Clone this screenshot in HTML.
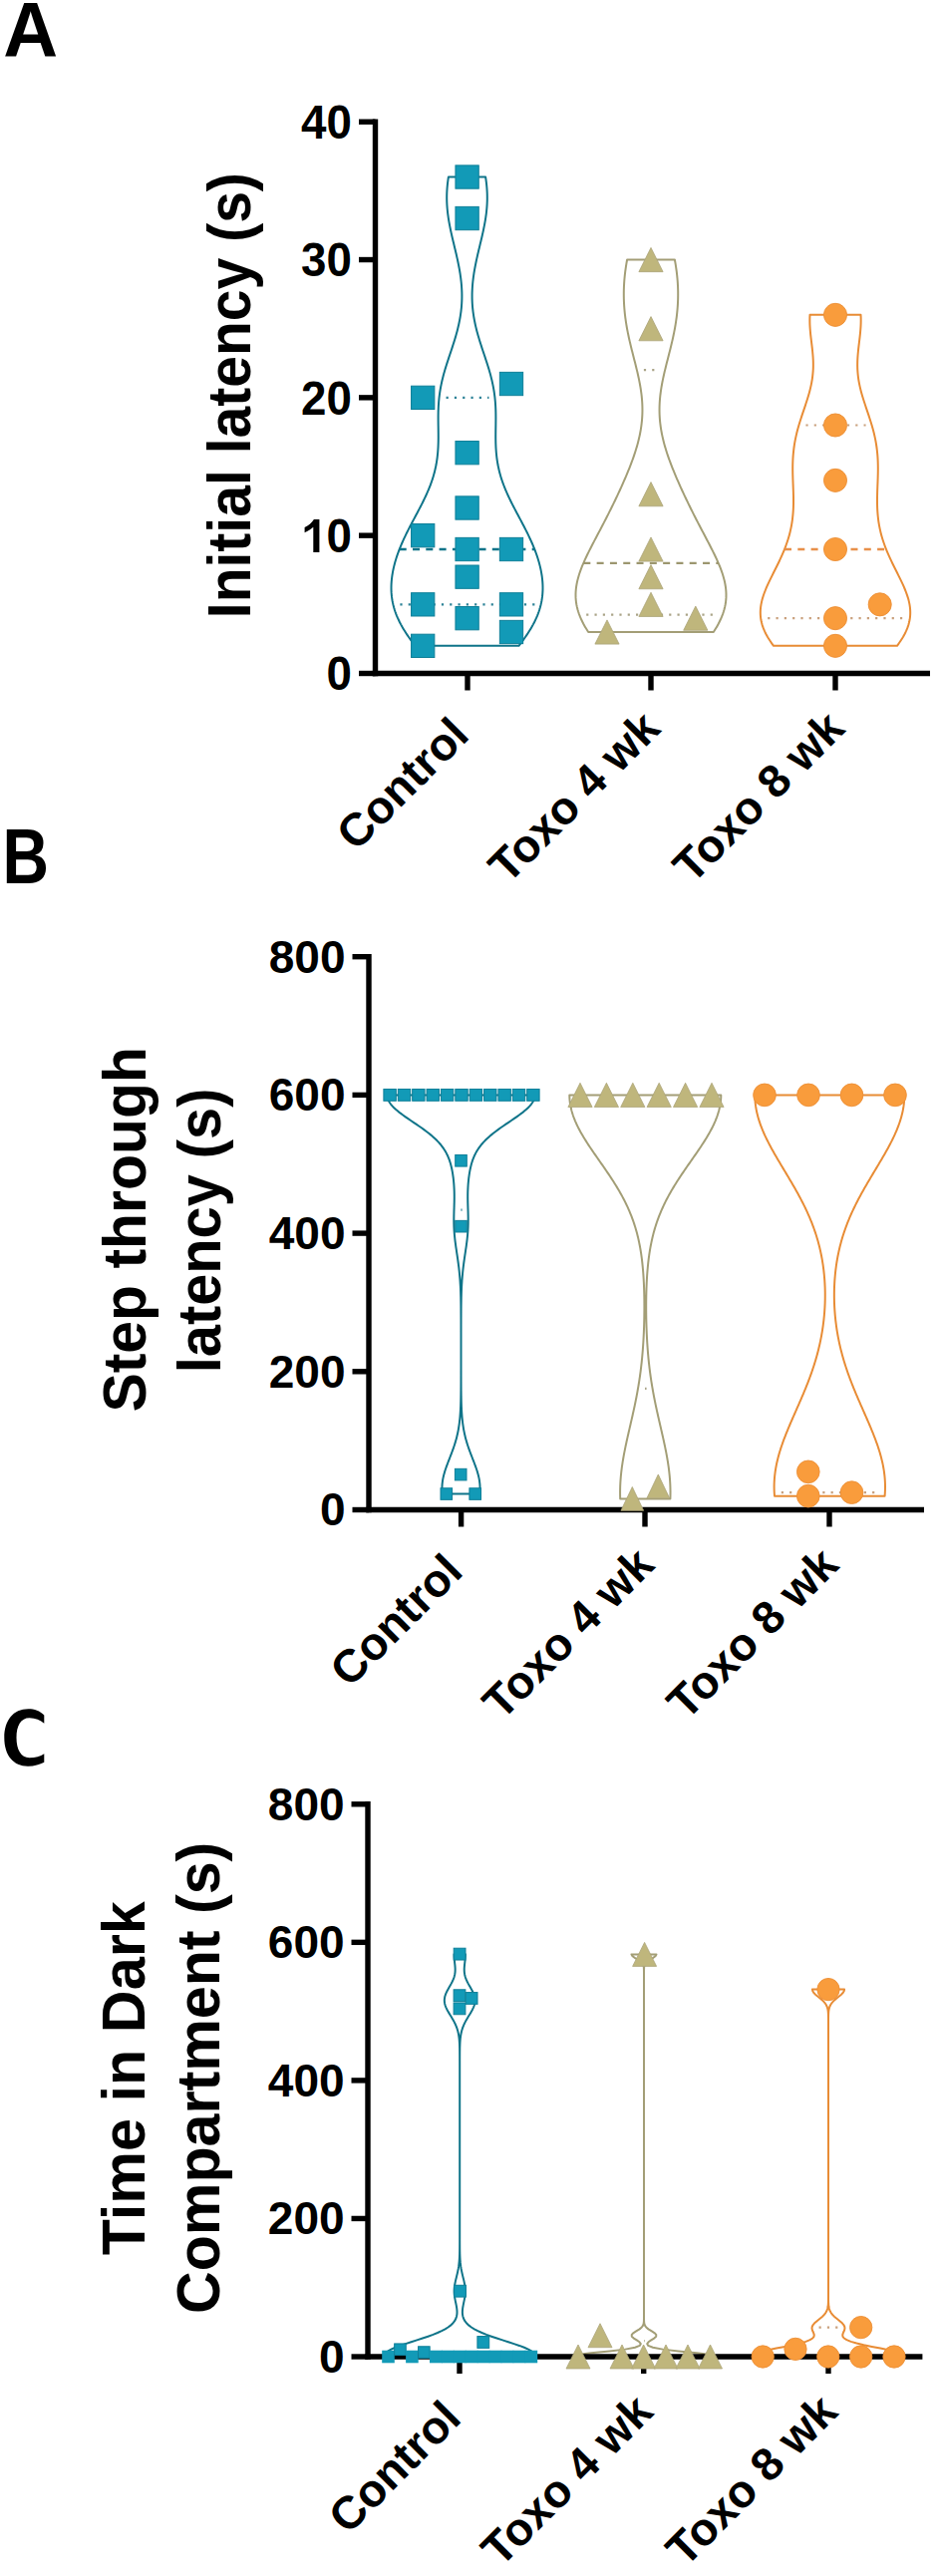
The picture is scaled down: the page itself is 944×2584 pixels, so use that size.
<!DOCTYPE html>
<html><head><meta charset="utf-8"><title>Violin plots</title>
<style>html,body{margin:0;padding:0;background:#fff;overflow:hidden}svg{display:block}</style>
</head><body>
<svg width="944" height="2584" viewBox="0 0 944 2584"><rect width="944" height="2584" fill="#fff"/>
<text font-family="Liberation Sans, sans-serif" font-weight="bold" font-size="78.4" transform="translate(3.2,56.5) scale(0.97,1)">A</text>
<text font-family="Liberation Sans, sans-serif" font-weight="bold" font-size="77" transform="translate(2.4,885.8) scale(0.836,1)">B</text>
<path d="M44.3,1720.5 C40,1716.2 34.5,1714.3 28.5,1714.3 C13,1714.3 4.3,1726 4.3,1743 C4.3,1761 13.5,1771.7 28,1771.7 C34.5,1771.7 40,1770.2 44.3,1767.8 L44.3,1759.3 C40.5,1761.8 35.5,1763.2 29.5,1763.2 C21,1763.2 16.5,1755 16.5,1743 C16.5,1731 21,1723.3 29.5,1723.3 C35.5,1723.3 40.5,1725.5 44.3,1728.8 Z" fill="#000"/>
<text font-family="Liberation Sans, sans-serif" font-weight="bold" font-size="46" text-anchor="end" transform="translate(472.60,739.50) rotate(-45)">Control</text>
<text font-family="Liberation Sans, sans-serif" font-weight="bold" font-size="46" text-anchor="end" transform="translate(664.40,733.00) rotate(-45)">Toxo 4 wk</text>
<text font-family="Liberation Sans, sans-serif" font-weight="bold" font-size="46" text-anchor="end" transform="translate(849.40,733.00) rotate(-45)">Toxo 8 wk</text>
<text font-family="Liberation Sans, sans-serif" font-weight="bold" font-size="61.50" transform="translate(250.50,620.20) rotate(-90) scale(0.928,1)">Initial latency (s)</text>
<text font-family="Liberation Sans, sans-serif" font-weight="bold" font-size="46" text-anchor="end" transform="translate(466.20,1578.50) rotate(-45)">Control</text>
<text font-family="Liberation Sans, sans-serif" font-weight="bold" font-size="46" text-anchor="end" transform="translate(658.40,1572.00) rotate(-45)">Toxo 4 wk</text>
<text font-family="Liberation Sans, sans-serif" font-weight="bold" font-size="46" text-anchor="end" transform="translate(843.40,1572.00) rotate(-45)">Toxo 8 wk</text>
<text font-family="Liberation Sans, sans-serif" font-weight="bold" font-size="61.50" transform="translate(146.00,1416.60) rotate(-90) scale(0.958,1)">Step through</text>
<text font-family="Liberation Sans, sans-serif" font-weight="bold" font-size="61.50" transform="translate(220.50,1377.20) rotate(-90) scale(0.939,1)">latency (s)</text>
<text font-family="Liberation Sans, sans-serif" font-weight="bold" font-size="46" text-anchor="end" transform="translate(464.60,2428.00) rotate(-45)">Control</text>
<text font-family="Liberation Sans, sans-serif" font-weight="bold" font-size="46" text-anchor="end" transform="translate(657.10,2421.50) rotate(-45)">Toxo 4 wk</text>
<text font-family="Liberation Sans, sans-serif" font-weight="bold" font-size="46" text-anchor="end" transform="translate(842.40,2421.50) rotate(-45)">Toxo 8 wk</text>
<text font-family="Liberation Sans, sans-serif" font-weight="bold" font-size="61.50" transform="translate(145.00,2262.30) rotate(-90) scale(0.965,1)">Time in Dark</text>
<text font-family="Liberation Sans, sans-serif" font-weight="bold" font-size="61.50" transform="translate(220.30,2321.00) rotate(-90) scale(0.962,1)">Compartment (s)</text>
<path d="M487.12,177.53 L487.43,179.68 L487.72,181.83 L487.98,183.97 L488.20,186.12 L488.39,188.27 L488.54,190.42 L488.66,192.56 L488.74,194.71 L488.78,196.86 L488.79,199.01 L488.76,201.15 L488.69,203.30 L488.58,205.45 L488.44,207.60 L488.27,209.74 L488.06,211.89 L487.82,214.04 L487.54,216.19 L487.24,218.33 L486.90,220.48 L486.54,222.63 L486.15,224.78 L485.74,226.92 L485.31,229.07 L484.86,231.22 L484.40,233.37 L483.91,235.51 L483.42,237.66 L482.92,239.81 L482.41,241.96 L481.89,244.10 L481.38,246.25 L480.86,248.40 L480.34,250.55 L479.83,252.69 L479.33,254.84 L478.84,256.99 L478.36,259.14 L477.89,261.28 L477.43,263.43 L477.00,265.58 L476.58,267.73 L476.19,269.87 L475.81,272.02 L475.46,274.17 L475.14,276.32 L474.85,278.46 L474.58,280.61 L474.34,282.76 L474.13,284.91 L473.96,287.05 L473.82,289.20 L473.71,291.35 L473.63,293.50 L473.59,295.64 L473.59,297.79 L473.62,299.94 L473.69,302.09 L473.79,304.23 L473.94,306.38 L474.11,308.53 L474.33,310.68 L474.58,312.82 L474.87,314.97 L475.19,317.12 L475.55,319.27 L475.95,321.41 L476.38,323.56 L476.84,325.71 L477.33,327.86 L477.85,330.00 L478.40,332.15 L478.98,334.30 L479.58,336.45 L480.21,338.59 L480.85,340.74 L481.52,342.89 L482.20,345.04 L482.89,347.18 L483.59,349.33 L484.30,351.48 L485.02,353.63 L485.74,355.77 L486.46,357.92 L487.17,360.07 L487.88,362.22 L488.57,364.36 L489.25,366.51 L489.92,368.66 L490.57,370.81 L491.20,372.95 L491.80,375.10 L492.38,377.25 L492.93,379.40 L493.45,381.54 L493.94,383.69 L494.39,385.84 L494.82,387.99 L495.21,390.13 L495.56,392.28 L495.88,394.43 L496.17,396.58 L496.42,398.72 L496.64,400.87 L496.83,403.02 L496.99,405.17 L497.12,407.31 L497.22,409.46 L497.30,411.61 L497.35,413.76 L497.38,415.90 L497.40,418.05 L497.40,420.20 L497.39,422.35 L497.37,424.49 L497.34,426.64 L497.31,428.79 L497.28,430.94 L497.26,433.08 L497.24,435.23 L497.23,437.38 L497.23,439.53 L497.26,441.67 L497.29,443.82 L497.36,445.97 L497.44,448.12 L497.56,450.26 L497.70,452.41 L497.88,454.56 L498.09,456.71 L498.33,458.85 L498.62,461.00 L498.94,463.15 L499.30,465.30 L499.71,467.44 L500.16,469.59 L500.66,471.74 L501.19,473.89 L501.78,476.03 L502.40,478.18 L503.07,480.33 L503.79,482.48 L504.54,484.62 L505.34,486.77 L506.18,488.92 L507.05,491.07 L507.96,493.21 L508.91,495.36 L509.89,497.51 L510.90,499.66 L511.93,501.80 L513.00,503.95 L514.08,506.10 L515.18,508.25 L516.29,510.39 L517.42,512.54 L518.56,514.69 L519.70,516.84 L520.85,518.98 L521.99,521.13 L523.14,523.28 L524.27,525.43 L525.39,527.57 L526.51,529.72 L527.60,531.87 L528.68,534.02 L529.74,536.16 L530.77,538.31 L531.78,540.46 L532.76,542.61 L533.71,544.75 L534.63,546.90 L535.52,549.05 L536.38,551.20 L537.20,553.34 L537.98,555.49 L538.72,557.64 L539.42,559.79 L540.09,561.93 L540.71,564.08 L541.29,566.23 L541.83,568.38 L542.32,570.52 L542.76,572.67 L543.16,574.82 L543.51,576.97 L543.81,579.11 L544.05,581.26 L544.25,583.41 L544.39,585.56 L544.47,587.70 L544.50,589.85 L544.47,592.00 L544.37,594.15 L544.22,596.29 L544.00,598.44 L543.71,600.59 L543.36,602.74 L542.94,604.88 L542.45,607.03 L541.89,609.18 L541.26,611.33 L540.56,613.47 L539.79,615.62 L538.94,617.77 L538.03,619.92 L537.04,622.06 L535.99,624.21 L534.87,626.36 L533.68,628.51 L532.43,630.65 L531.11,632.80 L529.74,634.95 L528.32,637.10 L526.84,639.24 L525.32,641.39 L523.75,643.54 L522.14,645.69 L520.50,647.84 L416.50,647.84 L414.86,645.69 L413.25,643.54 L411.68,641.39 L410.16,639.24 L408.68,637.10 L407.26,634.95 L405.89,632.80 L404.57,630.65 L403.32,628.51 L402.13,626.36 L401.01,624.21 L399.96,622.06 L398.97,619.92 L398.06,617.77 L397.21,615.62 L396.44,613.47 L395.74,611.33 L395.11,609.18 L394.55,607.03 L394.06,604.88 L393.64,602.74 L393.29,600.59 L393.00,598.44 L392.78,596.29 L392.63,594.15 L392.53,592.00 L392.50,589.85 L392.53,587.70 L392.61,585.56 L392.75,583.41 L392.95,581.26 L393.19,579.11 L393.49,576.97 L393.84,574.82 L394.24,572.67 L394.68,570.52 L395.17,568.38 L395.71,566.23 L396.29,564.08 L396.91,561.93 L397.58,559.79 L398.28,557.64 L399.02,555.49 L399.80,553.34 L400.62,551.20 L401.48,549.05 L402.37,546.90 L403.29,544.75 L404.24,542.61 L405.22,540.46 L406.23,538.31 L407.26,536.16 L408.32,534.02 L409.40,531.87 L410.49,529.72 L411.61,527.57 L412.73,525.43 L413.86,523.28 L415.01,521.13 L416.15,518.98 L417.30,516.84 L418.44,514.69 L419.58,512.54 L420.71,510.39 L421.82,508.25 L422.92,506.10 L424.00,503.95 L425.07,501.80 L426.10,499.66 L427.11,497.51 L428.09,495.36 L429.04,493.21 L429.95,491.07 L430.82,488.92 L431.66,486.77 L432.46,484.62 L433.21,482.48 L433.93,480.33 L434.60,478.18 L435.22,476.03 L435.81,473.89 L436.34,471.74 L436.84,469.59 L437.29,467.44 L437.70,465.30 L438.06,463.15 L438.38,461.00 L438.67,458.85 L438.91,456.71 L439.12,454.56 L439.30,452.41 L439.44,450.26 L439.56,448.12 L439.64,445.97 L439.71,443.82 L439.74,441.67 L439.77,439.53 L439.77,437.38 L439.76,435.23 L439.74,433.08 L439.72,430.94 L439.69,428.79 L439.66,426.64 L439.63,424.49 L439.61,422.35 L439.60,420.20 L439.60,418.05 L439.62,415.90 L439.65,413.76 L439.70,411.61 L439.78,409.46 L439.88,407.31 L440.01,405.17 L440.17,403.02 L440.36,400.87 L440.58,398.72 L440.83,396.58 L441.12,394.43 L441.44,392.28 L441.79,390.13 L442.18,387.99 L442.61,385.84 L443.06,383.69 L443.55,381.54 L444.07,379.40 L444.62,377.25 L445.20,375.10 L445.80,372.95 L446.43,370.81 L447.08,368.66 L447.75,366.51 L448.43,364.36 L449.12,362.22 L449.83,360.07 L450.54,357.92 L451.26,355.77 L451.98,353.63 L452.70,351.48 L453.41,349.33 L454.11,347.18 L454.80,345.04 L455.48,342.89 L456.15,340.74 L456.79,338.59 L457.42,336.45 L458.02,334.30 L458.60,332.15 L459.15,330.00 L459.67,327.86 L460.16,325.71 L460.62,323.56 L461.05,321.41 L461.45,319.27 L461.81,317.12 L462.13,314.97 L462.42,312.82 L462.67,310.68 L462.89,308.53 L463.06,306.38 L463.21,304.23 L463.31,302.09 L463.38,299.94 L463.41,297.79 L463.41,295.64 L463.37,293.50 L463.29,291.35 L463.18,289.20 L463.04,287.05 L462.87,284.91 L462.66,282.76 L462.42,280.61 L462.15,278.46 L461.86,276.32 L461.54,274.17 L461.19,272.02 L460.81,269.87 L460.42,267.73 L460.00,265.58 L459.57,263.43 L459.11,261.28 L458.64,259.14 L458.16,256.99 L457.67,254.84 L457.17,252.69 L456.66,250.55 L456.14,248.40 L455.62,246.25 L455.11,244.10 L454.59,241.96 L454.08,239.81 L453.58,237.66 L453.09,235.51 L452.60,233.37 L452.14,231.22 L451.69,229.07 L451.26,226.92 L450.85,224.78 L450.46,222.63 L450.10,220.48 L449.76,218.33 L449.46,216.19 L449.18,214.04 L448.94,211.89 L448.73,209.74 L448.56,207.60 L448.42,205.45 L448.31,203.30 L448.24,201.15 L448.21,199.01 L448.22,196.86 L448.26,194.71 L448.34,192.56 L448.46,190.42 L448.61,188.27 L448.80,186.12 L449.02,183.97 L449.28,181.83 L449.57,179.68 L449.88,177.53Z" fill="none" stroke="#0f7489" stroke-width="2.00" stroke-linejoin="round"/>
<line x1="401.38" y1="606.34" x2="536.62" y2="606.34" stroke="#2b8196" stroke-width="2.2" stroke-dasharray="2.2 6.1"/>
<line x1="400.70" y1="551.01" x2="536.30" y2="551.01" stroke="#0f7489" stroke-width="2.4" stroke-dasharray="7 6.3"/>
<line x1="447.56" y1="398.85" x2="490.44" y2="398.85" stroke="#2b8196" stroke-width="2.2" stroke-dasharray="2.2 6.1"/>
<path d="M676.89,260.53 L677.20,262.23 L677.50,263.94 L677.78,265.64 L678.05,267.35 L678.30,269.05 L678.54,270.76 L678.77,272.46 L678.97,274.17 L679.17,275.87 L679.34,277.58 L679.50,279.28 L679.65,280.99 L679.78,282.69 L679.89,284.40 L679.98,286.11 L680.06,287.81 L680.12,289.52 L680.17,291.22 L680.20,292.93 L680.21,294.63 L680.21,296.34 L680.19,298.04 L680.16,299.75 L680.10,301.45 L680.03,303.16 L679.95,304.86 L679.85,306.57 L679.73,308.28 L679.60,309.98 L679.45,311.69 L679.28,313.39 L679.10,315.10 L678.90,316.80 L678.69,318.51 L678.46,320.21 L678.22,321.92 L677.96,323.62 L677.69,325.33 L677.41,327.03 L677.11,328.74 L676.80,330.45 L676.47,332.15 L676.14,333.86 L675.79,335.56 L675.43,337.27 L675.06,338.97 L674.68,340.68 L674.29,342.38 L673.89,344.09 L673.49,345.79 L673.07,347.50 L672.65,349.20 L672.23,350.91 L671.80,352.62 L671.37,354.32 L670.93,356.03 L670.50,357.73 L670.06,359.44 L669.62,361.14 L669.19,362.85 L668.75,364.55 L668.32,366.26 L667.90,367.96 L667.48,369.67 L667.07,371.37 L666.66,373.08 L666.27,374.79 L665.88,376.49 L665.50,378.20 L665.14,379.90 L664.79,381.61 L664.45,383.31 L664.13,385.02 L663.82,386.72 L663.53,388.43 L663.25,390.13 L663.00,391.84 L662.76,393.54 L662.54,395.25 L662.34,396.96 L662.17,398.66 L662.01,400.37 L661.88,402.07 L661.76,403.78 L661.68,405.48 L661.61,407.19 L661.57,408.89 L661.55,410.60 L661.55,412.30 L661.58,414.01 L661.64,415.71 L661.72,417.42 L661.82,419.13 L661.95,420.83 L662.10,422.54 L662.28,424.24 L662.48,425.95 L662.70,427.65 L662.95,429.36 L663.22,431.06 L663.52,432.77 L663.84,434.47 L664.18,436.18 L664.54,437.88 L664.92,439.59 L665.33,441.29 L665.76,443.00 L666.20,444.71 L666.67,446.41 L667.15,448.12 L667.66,449.82 L668.18,451.53 L668.72,453.23 L669.27,454.94 L669.84,456.64 L670.43,458.35 L671.03,460.05 L671.65,461.76 L672.27,463.46 L672.92,465.17 L673.57,466.88 L674.24,468.58 L674.91,470.29 L675.60,471.99 L676.30,473.70 L677.00,475.40 L677.72,477.11 L678.45,478.81 L679.18,480.52 L679.92,482.22 L680.67,483.93 L681.43,485.63 L682.19,487.34 L682.96,489.05 L683.74,490.75 L684.52,492.46 L685.31,494.16 L686.10,495.87 L686.91,497.57 L687.71,499.28 L688.53,500.98 L689.34,502.69 L690.17,504.39 L691.00,506.10 L691.83,507.80 L692.67,509.51 L693.52,511.22 L694.37,512.92 L695.23,514.63 L696.09,516.33 L696.95,518.04 L697.82,519.74 L698.70,521.45 L699.58,523.15 L700.46,524.86 L701.35,526.56 L702.24,528.27 L703.14,529.97 L704.03,531.68 L704.93,533.39 L705.83,535.09 L706.73,536.80 L707.63,538.50 L708.52,540.21 L709.42,541.91 L710.31,543.62 L711.20,545.32 L712.09,547.03 L712.96,548.73 L713.83,550.44 L714.69,552.14 L715.54,553.85 L716.38,555.56 L717.21,557.26 L718.02,558.97 L718.81,560.67 L719.59,562.38 L720.34,564.08 L721.08,565.79 L721.79,567.49 L722.47,569.20 L723.13,570.90 L723.76,572.61 L724.36,574.31 L724.92,576.02 L725.45,577.73 L725.94,579.43 L726.40,581.14 L726.81,582.84 L727.18,584.55 L727.51,586.25 L727.80,587.96 L728.04,589.66 L728.23,591.37 L728.37,593.07 L728.46,594.78 L728.50,596.48 L728.48,598.19 L728.42,599.89 L728.30,601.60 L728.12,603.31 L727.89,605.01 L727.60,606.72 L727.26,608.42 L726.86,610.13 L726.41,611.83 L725.90,613.54 L725.34,615.24 L724.72,616.95 L724.05,618.65 L723.32,620.36 L722.55,622.06 L721.72,623.77 L720.85,625.48 L719.93,627.18 L718.96,628.89 L717.95,630.59 L716.90,632.30 L715.81,634.00 L590.19,634.00 L589.10,632.30 L588.05,630.59 L587.04,628.89 L586.07,627.18 L585.15,625.48 L584.28,623.77 L583.45,622.06 L582.68,620.36 L581.95,618.65 L581.28,616.95 L580.66,615.24 L580.10,613.54 L579.59,611.83 L579.14,610.13 L578.74,608.42 L578.40,606.72 L578.11,605.01 L577.88,603.31 L577.70,601.60 L577.58,599.89 L577.52,598.19 L577.50,596.48 L577.54,594.78 L577.63,593.07 L577.77,591.37 L577.96,589.66 L578.20,587.96 L578.49,586.25 L578.82,584.55 L579.19,582.84 L579.60,581.14 L580.06,579.43 L580.55,577.73 L581.08,576.02 L581.64,574.31 L582.24,572.61 L582.87,570.90 L583.53,569.20 L584.21,567.49 L584.92,565.79 L585.66,564.08 L586.41,562.38 L587.19,560.67 L587.98,558.97 L588.79,557.26 L589.62,555.56 L590.46,553.85 L591.31,552.14 L592.17,550.44 L593.04,548.73 L593.91,547.03 L594.80,545.32 L595.69,543.62 L596.58,541.91 L597.48,540.21 L598.37,538.50 L599.27,536.80 L600.17,535.09 L601.07,533.39 L601.97,531.68 L602.86,529.97 L603.76,528.27 L604.65,526.56 L605.54,524.86 L606.42,523.15 L607.30,521.45 L608.18,519.74 L609.05,518.04 L609.91,516.33 L610.77,514.63 L611.63,512.92 L612.48,511.22 L613.33,509.51 L614.17,507.80 L615.00,506.10 L615.83,504.39 L616.66,502.69 L617.47,500.98 L618.29,499.28 L619.09,497.57 L619.90,495.87 L620.69,494.16 L621.48,492.46 L622.26,490.75 L623.04,489.05 L623.81,487.34 L624.57,485.63 L625.33,483.93 L626.08,482.22 L626.82,480.52 L627.55,478.81 L628.28,477.11 L629.00,475.40 L629.70,473.70 L630.40,471.99 L631.09,470.29 L631.76,468.58 L632.43,466.88 L633.08,465.17 L633.73,463.46 L634.35,461.76 L634.97,460.05 L635.57,458.35 L636.16,456.64 L636.73,454.94 L637.28,453.23 L637.82,451.53 L638.34,449.82 L638.85,448.12 L639.33,446.41 L639.80,444.71 L640.24,443.00 L640.67,441.29 L641.08,439.59 L641.46,437.88 L641.82,436.18 L642.16,434.47 L642.48,432.77 L642.78,431.06 L643.05,429.36 L643.30,427.65 L643.52,425.95 L643.72,424.24 L643.90,422.54 L644.05,420.83 L644.18,419.13 L644.28,417.42 L644.36,415.71 L644.42,414.01 L644.45,412.30 L644.45,410.60 L644.43,408.89 L644.39,407.19 L644.32,405.48 L644.24,403.78 L644.12,402.07 L643.99,400.37 L643.83,398.66 L643.66,396.96 L643.46,395.25 L643.24,393.54 L643.00,391.84 L642.75,390.13 L642.47,388.43 L642.18,386.72 L641.87,385.02 L641.55,383.31 L641.21,381.61 L640.86,379.90 L640.50,378.20 L640.12,376.49 L639.73,374.79 L639.34,373.08 L638.93,371.37 L638.52,369.67 L638.10,367.96 L637.68,366.26 L637.25,364.55 L636.81,362.85 L636.38,361.14 L635.94,359.44 L635.50,357.73 L635.07,356.03 L634.63,354.32 L634.20,352.62 L633.77,350.91 L633.35,349.20 L632.93,347.50 L632.51,345.79 L632.11,344.09 L631.71,342.38 L631.32,340.68 L630.94,338.97 L630.57,337.27 L630.21,335.56 L629.86,333.86 L629.53,332.15 L629.20,330.45 L628.89,328.74 L628.59,327.03 L628.31,325.33 L628.04,323.62 L627.78,321.92 L627.54,320.21 L627.31,318.51 L627.10,316.80 L626.90,315.10 L626.72,313.39 L626.55,311.69 L626.40,309.98 L626.27,308.28 L626.15,306.57 L626.05,304.86 L625.97,303.16 L625.90,301.45 L625.84,299.75 L625.81,298.04 L625.79,296.34 L625.79,294.63 L625.80,292.93 L625.83,291.22 L625.88,289.52 L625.94,287.81 L626.02,286.11 L626.11,284.40 L626.22,282.69 L626.35,280.99 L626.50,279.28 L626.66,277.58 L626.83,275.87 L627.03,274.17 L627.23,272.46 L627.46,270.76 L627.70,269.05 L627.95,267.35 L628.22,265.64 L628.50,263.94 L628.80,262.23 L629.11,260.53Z" fill="none" stroke="#a39e76" stroke-width="2.00" stroke-linejoin="round"/>
<line x1="588.19" y1="616.71" x2="718.81" y2="616.71" stroke="#aaa488" stroke-width="2.2" stroke-dasharray="2.2 6.1"/>
<line x1="585.33" y1="564.84" x2="720.67" y2="564.84" stroke="#9c966f" stroke-width="2.4" stroke-dasharray="7 6.3"/>
<line x1="645.89" y1="371.19" x2="661.11" y2="371.19" stroke="#aaa488" stroke-width="2.2" stroke-dasharray="2.2 6.1"/>
<path d="M863.51,315.86 L863.58,317.37 L863.63,318.89 L863.65,320.40 L863.65,321.92 L863.63,323.43 L863.59,324.95 L863.53,326.47 L863.45,327.98 L863.35,329.50 L863.24,331.01 L863.11,332.53 L862.97,334.05 L862.82,335.56 L862.66,337.08 L862.49,338.59 L862.31,340.11 L862.13,341.63 L861.95,343.14 L861.77,344.66 L861.59,346.17 L861.41,347.69 L861.24,349.20 L861.08,350.72 L860.92,352.24 L860.77,353.75 L860.64,355.27 L860.52,356.78 L860.41,358.30 L860.33,359.82 L860.25,361.33 L860.20,362.85 L860.17,364.36 L860.16,365.88 L860.17,367.40 L860.20,368.91 L860.26,370.43 L860.34,371.94 L860.45,373.46 L860.58,374.97 L860.73,376.49 L860.91,378.01 L861.11,379.52 L861.34,381.04 L861.59,382.55 L861.87,384.07 L862.17,385.59 L862.48,387.10 L862.83,388.62 L863.19,390.13 L863.57,391.65 L863.97,393.17 L864.38,394.68 L864.81,396.20 L865.26,397.71 L865.72,399.23 L866.19,400.74 L866.67,402.26 L867.16,403.78 L867.65,405.29 L868.15,406.81 L868.66,408.32 L869.17,409.84 L869.68,411.36 L870.19,412.87 L870.70,414.39 L871.21,415.90 L871.71,417.42 L872.21,418.94 L872.70,420.45 L873.18,421.97 L873.66,423.48 L874.12,425.00 L874.57,426.51 L875.01,428.03 L875.44,429.55 L875.85,431.06 L876.25,432.58 L876.63,434.09 L877.00,435.61 L877.35,437.13 L877.68,438.64 L878.00,440.16 L878.30,441.67 L878.58,443.19 L878.85,444.71 L879.09,446.22 L879.32,447.74 L879.53,449.25 L879.73,450.77 L879.90,452.29 L880.06,453.80 L880.20,455.32 L880.33,456.83 L880.44,458.35 L880.53,459.86 L880.61,461.38 L880.67,462.90 L880.72,464.41 L880.76,465.93 L880.78,467.44 L880.80,468.96 L880.80,470.48 L880.79,471.99 L880.77,473.51 L880.75,475.02 L880.71,476.54 L880.67,478.06 L880.63,479.57 L880.58,481.09 L880.52,482.60 L880.47,484.12 L880.41,485.63 L880.35,487.15 L880.30,488.67 L880.24,490.18 L880.19,491.70 L880.14,493.21 L880.10,494.73 L880.06,496.25 L880.03,497.76 L880.00,499.28 L879.99,500.79 L879.98,502.31 L879.99,503.83 L880.01,505.34 L880.04,506.86 L880.08,508.37 L880.14,509.89 L880.21,511.40 L880.30,512.92 L880.41,514.44 L880.53,515.95 L880.67,517.47 L880.83,518.98 L881.01,520.50 L881.20,522.02 L881.42,523.53 L881.66,525.05 L881.92,526.56 L882.20,528.08 L882.50,529.60 L882.82,531.11 L883.16,532.63 L883.53,534.14 L883.91,535.66 L884.32,537.17 L884.75,538.69 L885.20,540.21 L885.67,541.72 L886.17,543.24 L886.68,544.75 L887.22,546.27 L887.77,547.79 L888.35,549.30 L888.94,550.82 L889.55,552.33 L890.18,553.85 L890.83,555.37 L891.49,556.88 L892.16,558.40 L892.85,559.91 L893.56,561.43 L894.27,562.95 L895.00,564.46 L895.74,565.98 L896.48,567.49 L897.23,569.01 L897.99,570.52 L898.75,572.04 L899.51,573.56 L900.27,575.07 L901.03,576.59 L901.78,578.10 L902.53,579.62 L903.27,581.14 L904.00,582.65 L904.72,584.17 L905.43,585.68 L906.12,587.20 L906.79,588.72 L907.44,590.23 L908.06,591.75 L908.67,593.26 L909.24,594.78 L909.78,596.29 L910.29,597.81 L910.77,599.33 L911.21,600.84 L911.61,602.36 L911.97,603.87 L912.29,605.39 L912.56,606.91 L912.79,608.42 L912.97,609.94 L913.10,611.45 L913.17,612.97 L913.20,614.49 L913.17,616.00 L913.09,617.52 L912.95,619.03 L912.76,620.55 L912.51,622.06 L912.20,623.58 L911.83,625.10 L911.41,626.61 L910.93,628.13 L910.40,629.64 L909.81,631.16 L909.16,632.68 L908.46,634.19 L907.71,635.71 L906.90,637.22 L906.05,638.74 L905.14,640.26 L904.19,641.77 L903.19,643.29 L902.15,644.80 L901.07,646.32 L899.95,647.84 L776.05,647.84 L774.93,646.32 L773.85,644.80 L772.81,643.29 L771.81,641.77 L770.86,640.26 L769.95,638.74 L769.10,637.22 L768.29,635.71 L767.54,634.19 L766.84,632.68 L766.19,631.16 L765.60,629.64 L765.07,628.13 L764.59,626.61 L764.17,625.10 L763.80,623.58 L763.49,622.06 L763.24,620.55 L763.05,619.03 L762.91,617.52 L762.83,616.00 L762.80,614.49 L762.83,612.97 L762.90,611.45 L763.03,609.94 L763.21,608.42 L763.44,606.91 L763.71,605.39 L764.03,603.87 L764.39,602.36 L764.79,600.84 L765.23,599.33 L765.71,597.81 L766.22,596.29 L766.76,594.78 L767.33,593.26 L767.94,591.75 L768.56,590.23 L769.21,588.72 L769.88,587.20 L770.57,585.68 L771.28,584.17 L772.00,582.65 L772.73,581.14 L773.47,579.62 L774.22,578.10 L774.97,576.59 L775.73,575.07 L776.49,573.56 L777.25,572.04 L778.01,570.52 L778.77,569.01 L779.52,567.49 L780.26,565.98 L781.00,564.46 L781.73,562.95 L782.44,561.43 L783.15,559.91 L783.84,558.40 L784.51,556.88 L785.17,555.37 L785.82,553.85 L786.45,552.33 L787.06,550.82 L787.65,549.30 L788.23,547.79 L788.78,546.27 L789.32,544.75 L789.83,543.24 L790.33,541.72 L790.80,540.21 L791.25,538.69 L791.68,537.17 L792.09,535.66 L792.47,534.14 L792.84,532.63 L793.18,531.11 L793.50,529.60 L793.80,528.08 L794.08,526.56 L794.34,525.05 L794.58,523.53 L794.80,522.02 L794.99,520.50 L795.17,518.98 L795.33,517.47 L795.47,515.95 L795.59,514.44 L795.70,512.92 L795.79,511.40 L795.86,509.89 L795.92,508.37 L795.96,506.86 L795.99,505.34 L796.01,503.83 L796.02,502.31 L796.01,500.79 L796.00,499.28 L795.97,497.76 L795.94,496.25 L795.90,494.73 L795.86,493.21 L795.81,491.70 L795.76,490.18 L795.70,488.67 L795.65,487.15 L795.59,485.63 L795.53,484.12 L795.48,482.60 L795.42,481.09 L795.37,479.57 L795.33,478.06 L795.29,476.54 L795.25,475.02 L795.23,473.51 L795.21,471.99 L795.20,470.48 L795.20,468.96 L795.22,467.44 L795.24,465.93 L795.28,464.41 L795.33,462.90 L795.39,461.38 L795.47,459.86 L795.56,458.35 L795.67,456.83 L795.80,455.32 L795.94,453.80 L796.10,452.29 L796.27,450.77 L796.47,449.25 L796.68,447.74 L796.91,446.22 L797.15,444.71 L797.42,443.19 L797.70,441.67 L798.00,440.16 L798.32,438.64 L798.65,437.13 L799.00,435.61 L799.37,434.09 L799.75,432.58 L800.15,431.06 L800.56,429.55 L800.99,428.03 L801.43,426.51 L801.88,425.00 L802.34,423.48 L802.82,421.97 L803.30,420.45 L803.79,418.94 L804.29,417.42 L804.79,415.90 L805.30,414.39 L805.81,412.87 L806.32,411.36 L806.83,409.84 L807.34,408.32 L807.85,406.81 L808.35,405.29 L808.84,403.78 L809.33,402.26 L809.81,400.74 L810.28,399.23 L810.74,397.71 L811.19,396.20 L811.62,394.68 L812.03,393.17 L812.43,391.65 L812.81,390.13 L813.17,388.62 L813.52,387.10 L813.83,385.59 L814.13,384.07 L814.41,382.55 L814.66,381.04 L814.89,379.52 L815.09,378.01 L815.27,376.49 L815.42,374.97 L815.55,373.46 L815.66,371.94 L815.74,370.43 L815.80,368.91 L815.83,367.40 L815.84,365.88 L815.83,364.36 L815.80,362.85 L815.75,361.33 L815.67,359.82 L815.59,358.30 L815.48,356.78 L815.36,355.27 L815.23,353.75 L815.08,352.24 L814.92,350.72 L814.76,349.20 L814.59,347.69 L814.41,346.17 L814.23,344.66 L814.05,343.14 L813.87,341.63 L813.69,340.11 L813.51,338.59 L813.34,337.08 L813.18,335.56 L813.03,334.05 L812.89,332.53 L812.76,331.01 L812.65,329.50 L812.55,327.98 L812.47,326.47 L812.41,324.95 L812.37,323.43 L812.35,321.92 L812.35,320.40 L812.37,318.89 L812.42,317.37 L812.49,315.86Z" fill="none" stroke="#e88c35" stroke-width="2.00" stroke-linejoin="round"/>
<line x1="770.19" y1="620.17" x2="906.81" y2="620.17" stroke="#c9a07c" stroke-width="2.2" stroke-dasharray="2.2 6.1"/>
<line x1="786.99" y1="551.01" x2="889.01" y2="551.01" stroke="#e8904a" stroke-width="2.4" stroke-dasharray="7 6.3"/>
<line x1="808.43" y1="426.51" x2="868.57" y2="426.51" stroke="#c9a07c" stroke-width="2.2" stroke-dasharray="2.2 6.1"/>
<path d="M536.49,1098.40 L536.40,1100.23 L536.00,1102.05 L535.30,1103.88 L534.30,1105.71 L533.04,1107.54 L531.51,1109.36 L529.75,1111.19 L527.77,1113.02 L525.60,1114.84 L523.28,1116.67 L520.82,1118.50 L518.26,1120.33 L515.62,1122.15 L512.94,1123.98 L510.24,1125.81 L507.54,1127.63 L504.87,1129.46 L502.25,1131.29 L499.71,1133.12 L497.25,1134.94 L494.89,1136.77 L492.64,1138.60 L490.52,1140.42 L488.52,1142.25 L486.65,1144.08 L484.92,1145.91 L483.32,1147.73 L481.84,1149.56 L480.50,1151.39 L479.27,1153.22 L478.15,1155.04 L477.14,1156.87 L476.23,1158.70 L475.41,1160.52 L474.67,1162.35 L474.01,1164.18 L473.42,1166.01 L472.88,1167.83 L472.40,1169.66 L471.97,1171.49 L471.58,1173.31 L471.24,1175.14 L470.92,1176.97 L470.64,1178.80 L470.39,1180.62 L470.17,1182.45 L469.97,1184.28 L469.80,1186.10 L469.65,1187.93 L469.53,1189.76 L469.43,1191.59 L469.35,1193.41 L469.28,1195.24 L469.24,1197.07 L469.22,1198.89 L469.21,1200.72 L469.22,1202.55 L469.25,1204.38 L469.28,1206.20 L469.33,1208.03 L469.38,1209.86 L469.43,1211.68 L469.49,1213.51 L469.54,1215.34 L469.59,1217.17 L469.63,1218.99 L469.66,1220.82 L469.68,1222.65 L469.69,1224.47 L469.68,1226.30 L469.65,1228.13 L469.60,1229.96 L469.53,1231.78 L469.43,1233.61 L469.32,1235.44 L469.19,1237.26 L469.03,1239.09 L468.85,1240.92 L468.66,1242.75 L468.45,1244.57 L468.22,1246.40 L467.98,1248.23 L467.73,1250.05 L467.47,1251.88 L467.20,1253.71 L466.93,1255.54 L466.66,1257.36 L466.39,1259.19 L466.12,1261.02 L465.85,1262.85 L465.60,1264.67 L465.34,1266.50 L465.10,1268.33 L464.87,1270.15 L464.65,1271.98 L464.44,1273.81 L464.25,1275.64 L464.07,1277.46 L463.90,1279.29 L463.74,1281.12 L463.60,1282.94 L463.46,1284.77 L463.35,1286.60 L463.24,1288.43 L463.14,1290.25 L463.05,1292.08 L462.98,1293.91 L462.91,1295.73 L462.85,1297.56 L462.80,1299.39 L462.75,1301.22 L462.71,1303.04 L462.68,1304.87 L462.65,1306.70 L462.62,1308.52 L462.60,1310.35 L462.58,1312.18 L462.57,1314.01 L462.56,1315.83 L462.55,1317.66 L462.54,1319.49 L462.53,1321.31 L462.52,1323.14 L462.52,1324.97 L462.52,1326.80 L462.51,1328.62 L462.51,1330.45 L462.51,1332.28 L462.51,1334.10 L462.50,1335.93 L462.50,1337.76 L462.50,1339.59 L462.50,1341.41 L462.50,1343.24 L462.50,1345.07 L462.50,1346.89 L462.50,1348.72 L462.50,1350.55 L462.50,1352.38 L462.50,1354.20 L462.50,1356.03 L462.50,1357.86 L462.50,1359.68 L462.50,1361.51 L462.50,1363.34 L462.50,1365.17 L462.50,1366.99 L462.50,1368.82 L462.50,1370.65 L462.50,1372.47 L462.51,1374.30 L462.51,1376.13 L462.51,1377.96 L462.51,1379.78 L462.52,1381.61 L462.52,1383.44 L462.53,1385.27 L462.53,1387.09 L462.54,1388.92 L462.55,1390.75 L462.56,1392.57 L462.57,1394.40 L462.59,1396.23 L462.61,1398.06 L462.64,1399.88 L462.67,1401.71 L462.70,1403.54 L462.74,1405.36 L462.79,1407.19 L462.85,1409.02 L462.91,1410.85 L462.99,1412.67 L463.08,1414.50 L463.18,1416.33 L463.30,1418.15 L463.43,1419.98 L463.58,1421.81 L463.75,1423.64 L463.95,1425.46 L464.16,1427.29 L464.40,1429.12 L464.67,1430.94 L464.96,1432.77 L465.28,1434.60 L465.64,1436.43 L466.02,1438.25 L466.44,1440.08 L466.88,1441.91 L467.36,1443.73 L467.88,1445.56 L468.42,1447.39 L468.99,1449.22 L469.59,1451.04 L470.22,1452.87 L470.87,1454.70 L471.55,1456.52 L472.24,1458.35 L472.94,1460.18 L473.65,1462.01 L474.36,1463.83 L475.07,1465.66 L475.77,1467.49 L476.46,1469.31 L477.13,1471.14 L477.77,1472.97 L478.38,1474.80 L478.95,1476.62 L479.48,1478.45 L479.96,1480.28 L480.38,1482.11 L480.74,1483.93 L481.03,1485.76 L481.26,1487.59 L481.42,1489.41 L481.51,1491.24 L481.52,1493.07 L481.46,1494.90 L481.32,1496.72 L481.12,1498.55 L443.88,1498.55 L443.68,1496.72 L443.54,1494.90 L443.48,1493.07 L443.49,1491.24 L443.58,1489.41 L443.74,1487.59 L443.97,1485.76 L444.26,1483.93 L444.62,1482.11 L445.04,1480.28 L445.52,1478.45 L446.05,1476.62 L446.62,1474.80 L447.23,1472.97 L447.87,1471.14 L448.54,1469.31 L449.23,1467.49 L449.93,1465.66 L450.64,1463.83 L451.35,1462.01 L452.06,1460.18 L452.76,1458.35 L453.45,1456.52 L454.13,1454.70 L454.78,1452.87 L455.41,1451.04 L456.01,1449.22 L456.58,1447.39 L457.12,1445.56 L457.64,1443.73 L458.12,1441.91 L458.56,1440.08 L458.98,1438.25 L459.36,1436.43 L459.72,1434.60 L460.04,1432.77 L460.33,1430.94 L460.60,1429.12 L460.84,1427.29 L461.05,1425.46 L461.25,1423.64 L461.42,1421.81 L461.57,1419.98 L461.70,1418.15 L461.82,1416.33 L461.92,1414.50 L462.01,1412.67 L462.09,1410.85 L462.15,1409.02 L462.21,1407.19 L462.26,1405.36 L462.30,1403.54 L462.33,1401.71 L462.36,1399.88 L462.39,1398.06 L462.41,1396.23 L462.43,1394.40 L462.44,1392.57 L462.45,1390.75 L462.46,1388.92 L462.47,1387.09 L462.47,1385.27 L462.48,1383.44 L462.48,1381.61 L462.49,1379.78 L462.49,1377.96 L462.49,1376.13 L462.49,1374.30 L462.50,1372.47 L462.50,1370.65 L462.50,1368.82 L462.50,1366.99 L462.50,1365.17 L462.50,1363.34 L462.50,1361.51 L462.50,1359.68 L462.50,1357.86 L462.50,1356.03 L462.50,1354.20 L462.50,1352.38 L462.50,1350.55 L462.50,1348.72 L462.50,1346.89 L462.50,1345.07 L462.50,1343.24 L462.50,1341.41 L462.50,1339.59 L462.50,1337.76 L462.50,1335.93 L462.49,1334.10 L462.49,1332.28 L462.49,1330.45 L462.49,1328.62 L462.48,1326.80 L462.48,1324.97 L462.48,1323.14 L462.47,1321.31 L462.46,1319.49 L462.45,1317.66 L462.44,1315.83 L462.43,1314.01 L462.42,1312.18 L462.40,1310.35 L462.38,1308.52 L462.35,1306.70 L462.32,1304.87 L462.29,1303.04 L462.25,1301.22 L462.20,1299.39 L462.15,1297.56 L462.09,1295.73 L462.02,1293.91 L461.95,1292.08 L461.86,1290.25 L461.76,1288.43 L461.65,1286.60 L461.54,1284.77 L461.40,1282.94 L461.26,1281.12 L461.10,1279.29 L460.93,1277.46 L460.75,1275.64 L460.56,1273.81 L460.35,1271.98 L460.13,1270.15 L459.90,1268.33 L459.66,1266.50 L459.40,1264.67 L459.15,1262.85 L458.88,1261.02 L458.61,1259.19 L458.34,1257.36 L458.07,1255.54 L457.80,1253.71 L457.53,1251.88 L457.27,1250.05 L457.02,1248.23 L456.78,1246.40 L456.55,1244.57 L456.34,1242.75 L456.15,1240.92 L455.97,1239.09 L455.81,1237.26 L455.68,1235.44 L455.57,1233.61 L455.47,1231.78 L455.40,1229.96 L455.35,1228.13 L455.32,1226.30 L455.31,1224.47 L455.32,1222.65 L455.34,1220.82 L455.37,1218.99 L455.41,1217.17 L455.46,1215.34 L455.51,1213.51 L455.57,1211.68 L455.62,1209.86 L455.67,1208.03 L455.72,1206.20 L455.75,1204.38 L455.78,1202.55 L455.79,1200.72 L455.78,1198.89 L455.76,1197.07 L455.72,1195.24 L455.65,1193.41 L455.57,1191.59 L455.47,1189.76 L455.35,1187.93 L455.20,1186.10 L455.03,1184.28 L454.83,1182.45 L454.61,1180.62 L454.36,1178.80 L454.08,1176.97 L453.76,1175.14 L453.42,1173.31 L453.03,1171.49 L452.60,1169.66 L452.12,1167.83 L451.58,1166.01 L450.99,1164.18 L450.33,1162.35 L449.59,1160.52 L448.77,1158.70 L447.86,1156.87 L446.85,1155.04 L445.73,1153.22 L444.50,1151.39 L443.16,1149.56 L441.68,1147.73 L440.08,1145.91 L438.35,1144.08 L436.48,1142.25 L434.48,1140.42 L432.36,1138.60 L430.11,1136.77 L427.75,1134.94 L425.29,1133.12 L422.75,1131.29 L420.13,1129.46 L417.46,1127.63 L414.76,1125.81 L412.06,1123.98 L409.38,1122.15 L406.74,1120.33 L404.18,1118.50 L401.72,1116.67 L399.40,1114.84 L397.23,1113.02 L395.25,1111.19 L393.49,1109.36 L391.96,1107.54 L390.70,1105.71 L389.70,1103.88 L389.00,1102.05 L388.60,1100.23 L388.51,1098.40Z" fill="none" stroke="#0f7489" stroke-width="2.00" stroke-linejoin="round"/>
<line x1="462.51" y1="1213.69" x2="463.49" y2="1213.69" stroke="#0f7489" stroke-width="2.2" stroke-dasharray="2.2 6.1"/>
<path d="M723.30,1098.40 L723.27,1100.25 L723.18,1102.10 L723.03,1103.95 L722.82,1105.80 L722.56,1107.65 L722.23,1109.50 L721.85,1111.35 L721.41,1113.19 L720.91,1115.04 L720.36,1116.89 L719.76,1118.74 L719.11,1120.59 L718.40,1122.44 L717.65,1124.29 L716.85,1126.14 L716.01,1127.99 L715.12,1129.84 L714.19,1131.69 L713.22,1133.54 L712.22,1135.39 L711.18,1137.24 L710.11,1139.09 L709.00,1140.93 L707.87,1142.78 L706.71,1144.63 L705.53,1146.48 L704.33,1148.33 L703.10,1150.18 L701.87,1152.03 L700.61,1153.88 L699.35,1155.73 L698.07,1157.58 L696.79,1159.43 L695.50,1161.28 L694.21,1163.13 L692.91,1164.98 L691.62,1166.83 L690.33,1168.67 L689.04,1170.52 L687.76,1172.37 L686.49,1174.22 L685.23,1176.07 L683.98,1177.92 L682.75,1179.77 L681.53,1181.62 L680.32,1183.47 L679.13,1185.32 L677.96,1187.17 L676.81,1189.02 L675.68,1190.87 L674.58,1192.72 L673.49,1194.57 L672.43,1196.41 L671.39,1198.26 L670.38,1200.11 L669.39,1201.96 L668.43,1203.81 L667.50,1205.66 L666.59,1207.51 L665.70,1209.36 L664.85,1211.21 L664.02,1213.06 L663.21,1214.91 L662.44,1216.76 L661.69,1218.61 L660.97,1220.46 L660.27,1222.31 L659.60,1224.15 L658.95,1226.00 L658.33,1227.85 L657.74,1229.70 L657.17,1231.55 L656.62,1233.40 L656.10,1235.25 L655.60,1237.10 L655.12,1238.95 L654.67,1240.80 L654.23,1242.65 L653.82,1244.50 L653.43,1246.35 L653.05,1248.20 L652.70,1250.05 L652.36,1251.89 L652.04,1253.74 L651.74,1255.59 L651.46,1257.44 L651.19,1259.29 L650.94,1261.14 L650.70,1262.99 L650.48,1264.84 L650.27,1266.69 L650.07,1268.54 L649.89,1270.39 L649.72,1272.24 L649.56,1274.09 L649.41,1275.94 L649.27,1277.79 L649.14,1279.63 L649.02,1281.48 L648.91,1283.33 L648.82,1285.18 L648.72,1287.03 L648.64,1288.88 L648.57,1290.73 L648.50,1292.58 L648.44,1294.43 L648.39,1296.28 L648.34,1298.13 L648.30,1299.98 L648.27,1301.83 L648.24,1303.68 L648.22,1305.53 L648.21,1307.37 L648.20,1309.22 L648.20,1311.07 L648.20,1312.92 L648.21,1314.77 L648.23,1316.62 L648.25,1318.47 L648.27,1320.32 L648.30,1322.17 L648.34,1324.02 L648.38,1325.87 L648.43,1327.72 L648.48,1329.57 L648.54,1331.42 L648.61,1333.27 L648.68,1335.11 L648.75,1336.96 L648.84,1338.81 L648.93,1340.66 L649.02,1342.51 L649.13,1344.36 L649.23,1346.21 L649.35,1348.06 L649.47,1349.91 L649.60,1351.76 L649.74,1353.61 L649.89,1355.46 L650.04,1357.31 L650.20,1359.16 L650.36,1361.01 L650.54,1362.85 L650.72,1364.70 L650.92,1366.55 L651.12,1368.40 L651.33,1370.25 L651.54,1372.10 L651.77,1373.95 L652.00,1375.80 L652.25,1377.65 L652.50,1379.50 L652.76,1381.35 L653.03,1383.20 L653.31,1385.05 L653.60,1386.90 L653.90,1388.75 L654.20,1390.59 L654.52,1392.44 L654.84,1394.29 L655.17,1396.14 L655.51,1397.99 L655.86,1399.84 L656.21,1401.69 L656.57,1403.54 L656.94,1405.39 L657.32,1407.24 L657.70,1409.09 L658.09,1410.94 L658.49,1412.79 L658.89,1414.64 L659.30,1416.49 L659.71,1418.33 L660.12,1420.18 L660.54,1422.03 L660.96,1423.88 L661.39,1425.73 L661.81,1427.58 L662.24,1429.43 L662.67,1431.28 L663.09,1433.13 L663.52,1434.98 L663.94,1436.83 L664.37,1438.68 L664.79,1440.53 L665.20,1442.38 L665.61,1444.23 L666.02,1446.07 L666.42,1447.92 L666.82,1449.77 L667.20,1451.62 L667.58,1453.47 L667.95,1455.32 L668.31,1457.17 L668.66,1459.02 L669.00,1460.87 L669.33,1462.72 L669.64,1464.57 L669.94,1466.42 L670.23,1468.27 L670.50,1470.12 L670.76,1471.97 L671.00,1473.81 L671.22,1475.66 L671.43,1477.51 L671.62,1479.36 L671.80,1481.21 L671.95,1483.06 L672.09,1484.91 L672.21,1486.76 L672.31,1488.61 L672.39,1490.46 L672.45,1492.31 L672.49,1494.16 L672.52,1496.01 L672.52,1497.86 L672.50,1499.71 L672.46,1501.55 L672.41,1503.40 L622.19,1503.40 L622.14,1501.55 L622.10,1499.71 L622.08,1497.86 L622.08,1496.01 L622.11,1494.16 L622.15,1492.31 L622.21,1490.46 L622.29,1488.61 L622.39,1486.76 L622.51,1484.91 L622.65,1483.06 L622.80,1481.21 L622.98,1479.36 L623.17,1477.51 L623.38,1475.66 L623.60,1473.81 L623.84,1471.97 L624.10,1470.12 L624.37,1468.27 L624.66,1466.42 L624.96,1464.57 L625.27,1462.72 L625.60,1460.87 L625.94,1459.02 L626.29,1457.17 L626.65,1455.32 L627.02,1453.47 L627.40,1451.62 L627.78,1449.77 L628.18,1447.92 L628.58,1446.07 L628.99,1444.23 L629.40,1442.38 L629.81,1440.53 L630.23,1438.68 L630.66,1436.83 L631.08,1434.98 L631.51,1433.13 L631.93,1431.28 L632.36,1429.43 L632.79,1427.58 L633.21,1425.73 L633.64,1423.88 L634.06,1422.03 L634.48,1420.18 L634.89,1418.33 L635.30,1416.49 L635.71,1414.64 L636.11,1412.79 L636.51,1410.94 L636.90,1409.09 L637.28,1407.24 L637.66,1405.39 L638.03,1403.54 L638.39,1401.69 L638.74,1399.84 L639.09,1397.99 L639.43,1396.14 L639.76,1394.29 L640.08,1392.44 L640.40,1390.59 L640.70,1388.75 L641.00,1386.90 L641.29,1385.05 L641.57,1383.20 L641.84,1381.35 L642.10,1379.50 L642.35,1377.65 L642.60,1375.80 L642.83,1373.95 L643.06,1372.10 L643.27,1370.25 L643.48,1368.40 L643.68,1366.55 L643.88,1364.70 L644.06,1362.85 L644.24,1361.01 L644.40,1359.16 L644.56,1357.31 L644.71,1355.46 L644.86,1353.61 L645.00,1351.76 L645.13,1349.91 L645.25,1348.06 L645.37,1346.21 L645.47,1344.36 L645.58,1342.51 L645.67,1340.66 L645.76,1338.81 L645.85,1336.96 L645.92,1335.11 L645.99,1333.27 L646.06,1331.42 L646.12,1329.57 L646.17,1327.72 L646.22,1325.87 L646.26,1324.02 L646.30,1322.17 L646.33,1320.32 L646.35,1318.47 L646.37,1316.62 L646.39,1314.77 L646.40,1312.92 L646.40,1311.07 L646.40,1309.22 L646.39,1307.37 L646.38,1305.53 L646.36,1303.68 L646.33,1301.83 L646.30,1299.98 L646.26,1298.13 L646.21,1296.28 L646.16,1294.43 L646.10,1292.58 L646.03,1290.73 L645.96,1288.88 L645.88,1287.03 L645.78,1285.18 L645.69,1283.33 L645.58,1281.48 L645.46,1279.63 L645.33,1277.79 L645.19,1275.94 L645.04,1274.09 L644.88,1272.24 L644.71,1270.39 L644.53,1268.54 L644.33,1266.69 L644.12,1264.84 L643.90,1262.99 L643.66,1261.14 L643.41,1259.29 L643.14,1257.44 L642.86,1255.59 L642.56,1253.74 L642.24,1251.89 L641.90,1250.05 L641.55,1248.20 L641.17,1246.35 L640.78,1244.50 L640.37,1242.65 L639.93,1240.80 L639.48,1238.95 L639.00,1237.10 L638.50,1235.25 L637.98,1233.40 L637.43,1231.55 L636.86,1229.70 L636.27,1227.85 L635.65,1226.00 L635.00,1224.15 L634.33,1222.31 L633.63,1220.46 L632.91,1218.61 L632.16,1216.76 L631.39,1214.91 L630.58,1213.06 L629.75,1211.21 L628.90,1209.36 L628.01,1207.51 L627.10,1205.66 L626.17,1203.81 L625.21,1201.96 L624.22,1200.11 L623.21,1198.26 L622.17,1196.41 L621.11,1194.57 L620.02,1192.72 L618.92,1190.87 L617.79,1189.02 L616.64,1187.17 L615.47,1185.32 L614.28,1183.47 L613.07,1181.62 L611.85,1179.77 L610.62,1177.92 L609.37,1176.07 L608.11,1174.22 L606.84,1172.37 L605.56,1170.52 L604.27,1168.67 L602.98,1166.83 L601.69,1164.98 L600.39,1163.13 L599.10,1161.28 L597.81,1159.43 L596.53,1157.58 L595.25,1155.73 L593.99,1153.88 L592.73,1152.03 L591.50,1150.18 L590.27,1148.33 L589.07,1146.48 L587.89,1144.63 L586.73,1142.78 L585.60,1140.93 L584.49,1139.09 L583.42,1137.24 L582.38,1135.39 L581.38,1133.54 L580.41,1131.69 L579.48,1129.84 L578.59,1127.99 L577.75,1126.14 L576.95,1124.29 L576.20,1122.44 L575.49,1120.59 L574.84,1118.74 L574.24,1116.89 L573.69,1115.04 L573.19,1113.19 L572.75,1111.35 L572.37,1109.50 L572.04,1107.65 L571.78,1105.80 L571.57,1103.95 L571.42,1102.10 L571.33,1100.25 L571.30,1098.40Z" fill="none" stroke="#a39e76" stroke-width="2.00" stroke-linejoin="round"/>
<line x1="647.02" y1="1392.79" x2="648.58" y2="1392.79" stroke="#aaa488" stroke-width="2.2" stroke-dasharray="2.2 6.1"/>
<path d="M907.30,1098.40 L907.28,1100.24 L907.21,1102.07 L907.10,1103.91 L906.95,1105.75 L906.75,1107.58 L906.51,1109.42 L906.22,1111.26 L905.90,1113.09 L905.53,1114.93 L905.12,1116.77 L904.67,1118.60 L904.18,1120.44 L903.65,1122.28 L903.08,1124.11 L902.48,1125.95 L901.84,1127.79 L901.17,1129.62 L900.46,1131.46 L899.72,1133.30 L898.95,1135.13 L898.15,1136.97 L897.32,1138.81 L896.46,1140.64 L895.57,1142.48 L894.67,1144.32 L893.73,1146.15 L892.78,1147.99 L891.81,1149.83 L890.82,1151.66 L889.81,1153.50 L888.78,1155.34 L887.74,1157.17 L886.69,1159.01 L885.62,1160.85 L884.55,1162.68 L883.46,1164.52 L882.37,1166.36 L881.28,1168.19 L880.18,1170.03 L879.08,1171.87 L877.97,1173.70 L876.87,1175.54 L875.77,1177.38 L874.67,1179.21 L873.57,1181.05 L872.48,1182.89 L871.39,1184.72 L870.31,1186.56 L869.24,1188.40 L868.18,1190.23 L867.13,1192.07 L866.09,1193.91 L865.06,1195.74 L864.05,1197.58 L863.05,1199.42 L862.06,1201.25 L861.09,1203.09 L860.13,1204.93 L859.20,1206.76 L858.27,1208.60 L857.37,1210.44 L856.49,1212.27 L855.62,1214.11 L854.77,1215.95 L853.94,1217.78 L853.13,1219.62 L852.34,1221.46 L851.57,1223.29 L850.82,1225.13 L850.10,1226.97 L849.39,1228.80 L848.70,1230.64 L848.04,1232.48 L847.39,1234.31 L846.76,1236.15 L846.16,1237.99 L845.58,1239.82 L845.01,1241.66 L844.47,1243.50 L843.95,1245.33 L843.45,1247.17 L842.97,1249.01 L842.51,1250.84 L842.07,1252.68 L841.64,1254.52 L841.24,1256.35 L840.86,1258.19 L840.49,1260.03 L840.15,1261.86 L839.82,1263.70 L839.51,1265.54 L839.22,1267.37 L838.95,1269.21 L838.69,1271.05 L838.46,1272.88 L838.24,1274.72 L838.03,1276.56 L837.85,1278.39 L837.68,1280.23 L837.52,1282.07 L837.38,1283.90 L837.26,1285.74 L837.16,1287.58 L837.07,1289.41 L836.99,1291.25 L836.94,1293.09 L836.89,1294.92 L836.86,1296.76 L836.85,1298.60 L836.85,1300.43 L836.87,1302.27 L836.90,1304.11 L836.95,1305.94 L837.01,1307.78 L837.09,1309.62 L837.18,1311.45 L837.29,1313.29 L837.41,1315.13 L837.55,1316.96 L837.70,1318.80 L837.87,1320.64 L838.05,1322.47 L838.25,1324.31 L838.46,1326.15 L838.69,1327.98 L838.93,1329.82 L839.19,1331.66 L839.46,1333.49 L839.75,1335.33 L840.06,1337.17 L840.38,1339.00 L840.71,1340.84 L841.07,1342.68 L841.43,1344.51 L841.82,1346.35 L842.22,1348.19 L842.63,1350.02 L843.06,1351.86 L843.51,1353.70 L843.97,1355.53 L844.45,1357.37 L844.94,1359.21 L845.45,1361.04 L845.98,1362.88 L846.52,1364.72 L847.07,1366.55 L847.64,1368.39 L848.23,1370.23 L848.83,1372.06 L849.44,1373.90 L850.07,1375.74 L850.71,1377.57 L851.37,1379.41 L852.04,1381.25 L852.72,1383.08 L853.41,1384.92 L854.12,1386.76 L854.84,1388.59 L855.57,1390.43 L856.31,1392.27 L857.06,1394.10 L857.82,1395.94 L858.58,1397.78 L859.36,1399.61 L860.14,1401.45 L860.93,1403.29 L861.72,1405.12 L862.52,1406.96 L863.32,1408.80 L864.13,1410.63 L864.94,1412.47 L865.75,1414.31 L866.56,1416.14 L867.37,1417.98 L868.18,1419.82 L868.99,1421.65 L869.79,1423.49 L870.59,1425.33 L871.38,1427.16 L872.17,1429.00 L872.95,1430.84 L873.72,1432.67 L874.48,1434.51 L875.23,1436.35 L875.97,1438.18 L876.69,1440.02 L877.40,1441.86 L878.10,1443.69 L878.78,1445.53 L879.44,1447.37 L880.09,1449.20 L880.71,1451.04 L881.32,1452.88 L881.90,1454.71 L882.47,1456.55 L883.01,1458.39 L883.52,1460.22 L884.01,1462.06 L884.48,1463.90 L884.92,1465.73 L885.33,1467.57 L885.72,1469.41 L886.07,1471.24 L886.40,1473.08 L886.70,1474.92 L886.97,1476.75 L887.20,1478.59 L887.41,1480.43 L887.59,1482.26 L887.73,1484.10 L887.84,1485.94 L887.92,1487.77 L887.97,1489.61 L887.99,1491.45 L887.97,1493.28 L887.92,1495.12 L887.84,1496.96 L887.73,1498.79 L887.59,1500.63 L777.01,1500.63 L776.87,1498.79 L776.76,1496.96 L776.68,1495.12 L776.63,1493.28 L776.61,1491.45 L776.63,1489.61 L776.68,1487.77 L776.76,1485.94 L776.87,1484.10 L777.01,1482.26 L777.19,1480.43 L777.40,1478.59 L777.63,1476.75 L777.90,1474.92 L778.20,1473.08 L778.53,1471.24 L778.88,1469.41 L779.27,1467.57 L779.68,1465.73 L780.12,1463.90 L780.59,1462.06 L781.08,1460.22 L781.59,1458.39 L782.13,1456.55 L782.70,1454.71 L783.28,1452.88 L783.89,1451.04 L784.51,1449.20 L785.16,1447.37 L785.82,1445.53 L786.50,1443.69 L787.20,1441.86 L787.91,1440.02 L788.63,1438.18 L789.37,1436.35 L790.12,1434.51 L790.88,1432.67 L791.65,1430.84 L792.43,1429.00 L793.22,1427.16 L794.01,1425.33 L794.81,1423.49 L795.61,1421.65 L796.42,1419.82 L797.23,1417.98 L798.04,1416.14 L798.85,1414.31 L799.66,1412.47 L800.47,1410.63 L801.28,1408.80 L802.08,1406.96 L802.88,1405.12 L803.67,1403.29 L804.46,1401.45 L805.24,1399.61 L806.02,1397.78 L806.78,1395.94 L807.54,1394.10 L808.29,1392.27 L809.03,1390.43 L809.76,1388.59 L810.48,1386.76 L811.19,1384.92 L811.88,1383.08 L812.56,1381.25 L813.23,1379.41 L813.89,1377.57 L814.53,1375.74 L815.16,1373.90 L815.77,1372.06 L816.37,1370.23 L816.96,1368.39 L817.53,1366.55 L818.08,1364.72 L818.62,1362.88 L819.15,1361.04 L819.66,1359.21 L820.15,1357.37 L820.63,1355.53 L821.09,1353.70 L821.54,1351.86 L821.97,1350.02 L822.38,1348.19 L822.78,1346.35 L823.17,1344.51 L823.53,1342.68 L823.89,1340.84 L824.22,1339.00 L824.54,1337.17 L824.85,1335.33 L825.14,1333.49 L825.41,1331.66 L825.67,1329.82 L825.91,1327.98 L826.14,1326.15 L826.35,1324.31 L826.55,1322.47 L826.73,1320.64 L826.90,1318.80 L827.05,1316.96 L827.19,1315.13 L827.31,1313.29 L827.42,1311.45 L827.51,1309.62 L827.59,1307.78 L827.65,1305.94 L827.70,1304.11 L827.73,1302.27 L827.75,1300.43 L827.75,1298.60 L827.74,1296.76 L827.71,1294.92 L827.66,1293.09 L827.61,1291.25 L827.53,1289.41 L827.44,1287.58 L827.34,1285.74 L827.22,1283.90 L827.08,1282.07 L826.92,1280.23 L826.75,1278.39 L826.57,1276.56 L826.36,1274.72 L826.14,1272.88 L825.91,1271.05 L825.65,1269.21 L825.38,1267.37 L825.09,1265.54 L824.78,1263.70 L824.45,1261.86 L824.11,1260.03 L823.74,1258.19 L823.36,1256.35 L822.96,1254.52 L822.53,1252.68 L822.09,1250.84 L821.63,1249.01 L821.15,1247.17 L820.65,1245.33 L820.13,1243.50 L819.59,1241.66 L819.02,1239.82 L818.44,1237.99 L817.84,1236.15 L817.21,1234.31 L816.56,1232.48 L815.90,1230.64 L815.21,1228.80 L814.50,1226.97 L813.78,1225.13 L813.03,1223.29 L812.26,1221.46 L811.47,1219.62 L810.66,1217.78 L809.83,1215.95 L808.98,1214.11 L808.11,1212.27 L807.23,1210.44 L806.33,1208.60 L805.40,1206.76 L804.47,1204.93 L803.51,1203.09 L802.54,1201.25 L801.55,1199.42 L800.55,1197.58 L799.54,1195.74 L798.51,1193.91 L797.47,1192.07 L796.42,1190.23 L795.36,1188.40 L794.29,1186.56 L793.21,1184.72 L792.12,1182.89 L791.03,1181.05 L789.93,1179.21 L788.83,1177.38 L787.73,1175.54 L786.63,1173.70 L785.52,1171.87 L784.42,1170.03 L783.32,1168.19 L782.23,1166.36 L781.14,1164.52 L780.05,1162.68 L778.98,1160.85 L777.91,1159.01 L776.86,1157.17 L775.82,1155.34 L774.79,1153.50 L773.78,1151.66 L772.79,1149.83 L771.82,1147.99 L770.87,1146.15 L769.93,1144.32 L769.03,1142.48 L768.14,1140.64 L767.28,1138.81 L766.45,1136.97 L765.65,1135.13 L764.88,1133.30 L764.14,1131.46 L763.43,1129.62 L762.76,1127.79 L762.12,1125.95 L761.52,1124.11 L760.95,1122.28 L760.42,1120.44 L759.93,1118.60 L759.48,1116.77 L759.07,1114.93 L758.70,1113.09 L758.38,1111.26 L758.09,1109.42 L757.85,1107.58 L757.65,1105.75 L757.50,1103.91 L757.39,1102.07 L757.32,1100.24 L757.30,1098.40Z" fill="none" stroke="#e88c35" stroke-width="2.00" stroke-linejoin="round"/>
<line x1="783.77" y1="1497.16" x2="881.83" y2="1497.16" stroke="#c9a07c" stroke-width="2.2" stroke-dasharray="2.2 6.1"/>
<path d="M466.85,1960.13 L466.85,1961.97 L466.76,1963.82 L466.61,1965.66 L466.42,1967.50 L466.21,1969.35 L466.00,1971.19 L465.84,1973.04 L465.74,1974.88 L465.75,1976.72 L465.87,1978.57 L466.14,1980.41 L466.55,1982.26 L467.12,1984.10 L467.83,1985.95 L468.68,1987.79 L469.63,1989.63 L470.66,1991.48 L471.72,1993.32 L472.78,1995.17 L473.78,1997.01 L474.68,1998.85 L475.44,2000.70 L476.03,2002.54 L476.41,2004.39 L476.58,2006.23 L476.51,2008.08 L476.21,2009.92 L475.71,2011.76 L475.01,2013.61 L474.15,2015.45 L473.17,2017.30 L472.10,2019.14 L470.98,2020.98 L469.85,2022.83 L468.73,2024.67 L467.66,2026.52 L466.66,2028.36 L465.75,2030.21 L464.93,2032.05 L464.21,2033.89 L463.60,2035.74 L463.08,2037.58 L462.65,2039.43 L462.30,2041.27 L462.02,2043.11 L461.80,2044.96 L461.64,2046.80 L461.51,2048.65 L461.42,2050.49 L461.35,2052.34 L461.30,2054.18 L461.27,2056.02 L461.24,2057.87 L461.23,2059.71 L461.22,2061.56 L461.21,2063.40 L461.21,2065.24 L461.20,2067.09 L461.20,2068.93 L461.20,2070.78 L461.20,2072.62 L461.20,2074.47 L461.20,2076.31 L461.20,2078.15 L461.20,2080.00 L461.20,2081.84 L461.20,2083.69 L461.20,2085.53 L461.20,2087.37 L461.20,2089.22 L461.20,2091.06 L461.20,2092.91 L461.20,2094.75 L461.20,2096.60 L461.20,2098.44 L461.20,2100.28 L461.20,2102.13 L461.20,2103.97 L461.20,2105.82 L461.20,2107.66 L461.20,2109.50 L461.20,2111.35 L461.20,2113.19 L461.20,2115.04 L461.20,2116.88 L461.20,2118.73 L461.20,2120.57 L461.20,2122.41 L461.20,2124.26 L461.20,2126.10 L461.20,2127.95 L461.20,2129.79 L461.20,2131.63 L461.20,2133.48 L461.20,2135.32 L461.20,2137.17 L461.20,2139.01 L461.20,2140.86 L461.20,2142.70 L461.20,2144.54 L461.20,2146.39 L461.20,2148.23 L461.20,2150.08 L461.20,2151.92 L461.20,2153.76 L461.20,2155.61 L461.20,2157.45 L461.20,2159.30 L461.20,2161.14 L461.20,2162.99 L461.20,2164.83 L461.20,2166.67 L461.20,2168.52 L461.20,2170.36 L461.20,2172.21 L461.20,2174.05 L461.20,2175.89 L461.20,2177.74 L461.20,2179.58 L461.20,2181.43 L461.20,2183.27 L461.20,2185.12 L461.20,2186.96 L461.20,2188.80 L461.20,2190.65 L461.20,2192.49 L461.20,2194.34 L461.20,2196.18 L461.20,2198.02 L461.20,2199.87 L461.20,2201.71 L461.20,2203.56 L461.20,2205.40 L461.20,2207.25 L461.20,2209.09 L461.20,2210.93 L461.20,2212.78 L461.20,2214.62 L461.20,2216.47 L461.20,2218.31 L461.20,2220.15 L461.20,2222.00 L461.20,2223.84 L461.20,2225.69 L461.20,2227.53 L461.20,2229.38 L461.20,2231.22 L461.20,2233.06 L461.20,2234.91 L461.20,2236.75 L461.20,2238.60 L461.20,2240.44 L461.20,2242.28 L461.20,2244.13 L461.20,2245.97 L461.21,2247.82 L461.21,2249.66 L461.22,2251.51 L461.23,2253.35 L461.24,2255.19 L461.26,2257.04 L461.29,2258.88 L461.33,2260.73 L461.39,2262.57 L461.46,2264.41 L461.57,2266.26 L461.70,2268.10 L461.86,2269.95 L462.07,2271.79 L462.31,2273.64 L462.60,2275.48 L462.94,2277.32 L463.32,2279.17 L463.73,2281.01 L464.17,2282.86 L464.62,2284.70 L465.08,2286.54 L465.51,2288.39 L465.90,2290.23 L466.24,2292.08 L466.51,2293.92 L466.68,2295.77 L466.77,2297.61 L466.75,2299.45 L466.64,2301.30 L466.44,2303.14 L466.16,2304.99 L465.82,2306.83 L465.45,2308.67 L465.06,2310.52 L464.69,2312.36 L464.35,2314.21 L464.09,2316.05 L463.92,2317.90 L463.88,2319.74 L464.00,2321.58 L464.32,2323.43 L464.88,2325.27 L465.72,2327.12 L466.89,2328.96 L468.44,2330.80 L470.42,2332.65 L472.88,2334.49 L475.85,2336.34 L479.35,2338.18 L483.41,2340.03 L487.98,2341.87 L493.03,2343.71 L498.46,2345.56 L504.15,2347.40 L509.93,2349.25 L515.63,2351.09 L521.02,2352.93 L525.89,2354.78 L530.02,2356.62 L533.21,2358.47 L535.30,2360.31 L536.18,2362.16 L535.79,2364.00 L386.61,2364.00 L386.22,2362.16 L387.10,2360.31 L389.19,2358.47 L392.38,2356.62 L396.51,2354.78 L401.38,2352.93 L406.77,2351.09 L412.47,2349.25 L418.25,2347.40 L423.94,2345.56 L429.37,2343.71 L434.42,2341.87 L438.99,2340.03 L443.05,2338.18 L446.55,2336.34 L449.52,2334.49 L451.98,2332.65 L453.96,2330.80 L455.51,2328.96 L456.68,2327.12 L457.52,2325.27 L458.08,2323.43 L458.40,2321.58 L458.52,2319.74 L458.48,2317.90 L458.31,2316.05 L458.05,2314.21 L457.71,2312.36 L457.34,2310.52 L456.95,2308.67 L456.58,2306.83 L456.24,2304.99 L455.96,2303.14 L455.76,2301.30 L455.65,2299.45 L455.63,2297.61 L455.72,2295.77 L455.89,2293.92 L456.16,2292.08 L456.50,2290.23 L456.89,2288.39 L457.32,2286.54 L457.78,2284.70 L458.23,2282.86 L458.67,2281.01 L459.08,2279.17 L459.46,2277.32 L459.80,2275.48 L460.09,2273.64 L460.33,2271.79 L460.54,2269.95 L460.70,2268.10 L460.83,2266.26 L460.94,2264.41 L461.01,2262.57 L461.07,2260.73 L461.11,2258.88 L461.14,2257.04 L461.16,2255.19 L461.17,2253.35 L461.18,2251.51 L461.19,2249.66 L461.19,2247.82 L461.20,2245.97 L461.20,2244.13 L461.20,2242.28 L461.20,2240.44 L461.20,2238.60 L461.20,2236.75 L461.20,2234.91 L461.20,2233.06 L461.20,2231.22 L461.20,2229.38 L461.20,2227.53 L461.20,2225.69 L461.20,2223.84 L461.20,2222.00 L461.20,2220.15 L461.20,2218.31 L461.20,2216.47 L461.20,2214.62 L461.20,2212.78 L461.20,2210.93 L461.20,2209.09 L461.20,2207.25 L461.20,2205.40 L461.20,2203.56 L461.20,2201.71 L461.20,2199.87 L461.20,2198.02 L461.20,2196.18 L461.20,2194.34 L461.20,2192.49 L461.20,2190.65 L461.20,2188.80 L461.20,2186.96 L461.20,2185.12 L461.20,2183.27 L461.20,2181.43 L461.20,2179.58 L461.20,2177.74 L461.20,2175.89 L461.20,2174.05 L461.20,2172.21 L461.20,2170.36 L461.20,2168.52 L461.20,2166.67 L461.20,2164.83 L461.20,2162.99 L461.20,2161.14 L461.20,2159.30 L461.20,2157.45 L461.20,2155.61 L461.20,2153.76 L461.20,2151.92 L461.20,2150.08 L461.20,2148.23 L461.20,2146.39 L461.20,2144.54 L461.20,2142.70 L461.20,2140.86 L461.20,2139.01 L461.20,2137.17 L461.20,2135.32 L461.20,2133.48 L461.20,2131.63 L461.20,2129.79 L461.20,2127.95 L461.20,2126.10 L461.20,2124.26 L461.20,2122.41 L461.20,2120.57 L461.20,2118.73 L461.20,2116.88 L461.20,2115.04 L461.20,2113.19 L461.20,2111.35 L461.20,2109.50 L461.20,2107.66 L461.20,2105.82 L461.20,2103.97 L461.20,2102.13 L461.20,2100.28 L461.20,2098.44 L461.20,2096.60 L461.20,2094.75 L461.20,2092.91 L461.20,2091.06 L461.20,2089.22 L461.20,2087.37 L461.20,2085.53 L461.20,2083.69 L461.20,2081.84 L461.20,2080.00 L461.20,2078.15 L461.20,2076.31 L461.20,2074.47 L461.20,2072.62 L461.20,2070.78 L461.20,2068.93 L461.20,2067.09 L461.19,2065.24 L461.19,2063.40 L461.18,2061.56 L461.17,2059.71 L461.16,2057.87 L461.13,2056.02 L461.10,2054.18 L461.05,2052.34 L460.98,2050.49 L460.89,2048.65 L460.76,2046.80 L460.60,2044.96 L460.38,2043.11 L460.10,2041.27 L459.75,2039.43 L459.32,2037.58 L458.80,2035.74 L458.19,2033.89 L457.47,2032.05 L456.65,2030.21 L455.74,2028.36 L454.74,2026.52 L453.67,2024.67 L452.55,2022.83 L451.42,2020.98 L450.30,2019.14 L449.23,2017.30 L448.25,2015.45 L447.39,2013.61 L446.69,2011.76 L446.19,2009.92 L445.89,2008.08 L445.82,2006.23 L445.99,2004.39 L446.37,2002.54 L446.96,2000.70 L447.72,1998.85 L448.62,1997.01 L449.62,1995.17 L450.68,1993.32 L451.74,1991.48 L452.77,1989.63 L453.72,1987.79 L454.57,1985.95 L455.28,1984.10 L455.85,1982.26 L456.26,1980.41 L456.53,1978.57 L456.65,1976.72 L456.66,1974.88 L456.56,1973.04 L456.40,1971.19 L456.19,1969.35 L455.98,1967.50 L455.79,1965.66 L455.64,1963.82 L455.55,1961.97 L455.55,1960.13Z" fill="none" stroke="#0f7489" stroke-width="2.00" stroke-linejoin="round"/>
<line x1="462.63" y1="2298.19" x2="460.77" y2="2298.19" stroke="#0f7489" stroke-width="2.2" stroke-dasharray="2.2 6.1"/>
<path d="M658.50,1960.40 L657.47,1962.25 L654.85,1964.09 L651.74,1965.93 L649.14,1967.78 L647.44,1969.62 L646.56,1971.46 L646.18,1973.30 L646.05,1975.15 L646.01,1976.99 L646.00,1978.83 L646.00,1980.68 L646.00,1982.52 L646.00,1984.36 L646.00,1986.20 L646.00,1988.05 L646.00,1989.89 L646.00,1991.73 L646.00,1993.58 L646.00,1995.42 L646.00,1997.26 L646.00,1999.10 L646.00,2000.95 L646.00,2002.79 L646.00,2004.63 L646.00,2006.48 L646.00,2008.32 L646.00,2010.16 L646.00,2012.01 L646.00,2013.85 L646.00,2015.69 L646.00,2017.53 L646.00,2019.38 L646.00,2021.22 L646.00,2023.06 L646.00,2024.91 L646.00,2026.75 L646.00,2028.59 L646.00,2030.43 L646.00,2032.28 L646.00,2034.12 L646.00,2035.96 L646.00,2037.81 L646.00,2039.65 L646.00,2041.49 L646.00,2043.33 L646.00,2045.18 L646.00,2047.02 L646.00,2048.86 L646.00,2050.71 L646.00,2052.55 L646.00,2054.39 L646.00,2056.23 L646.00,2058.08 L646.00,2059.92 L646.00,2061.76 L646.00,2063.61 L646.00,2065.45 L646.00,2067.29 L646.00,2069.14 L646.00,2070.98 L646.00,2072.82 L646.00,2074.66 L646.00,2076.51 L646.00,2078.35 L646.00,2080.19 L646.00,2082.04 L646.00,2083.88 L646.00,2085.72 L646.00,2087.56 L646.00,2089.41 L646.00,2091.25 L646.00,2093.09 L646.00,2094.94 L646.00,2096.78 L646.00,2098.62 L646.00,2100.46 L646.00,2102.31 L646.00,2104.15 L646.00,2105.99 L646.00,2107.84 L646.00,2109.68 L646.00,2111.52 L646.00,2113.36 L646.00,2115.21 L646.00,2117.05 L646.00,2118.89 L646.00,2120.74 L646.00,2122.58 L646.00,2124.42 L646.00,2126.27 L646.00,2128.11 L646.00,2129.95 L646.00,2131.79 L646.00,2133.64 L646.00,2135.48 L646.00,2137.32 L646.00,2139.17 L646.00,2141.01 L646.00,2142.85 L646.00,2144.69 L646.00,2146.54 L646.00,2148.38 L646.00,2150.22 L646.00,2152.07 L646.00,2153.91 L646.00,2155.75 L646.00,2157.59 L646.00,2159.44 L646.00,2161.28 L646.00,2163.12 L646.00,2164.97 L646.00,2166.81 L646.00,2168.65 L646.00,2170.49 L646.00,2172.34 L646.00,2174.18 L646.00,2176.02 L646.00,2177.87 L646.00,2179.71 L646.00,2181.55 L646.00,2183.40 L646.00,2185.24 L646.00,2187.08 L646.00,2188.92 L646.00,2190.77 L646.00,2192.61 L646.00,2194.45 L646.00,2196.30 L646.00,2198.14 L646.00,2199.98 L646.00,2201.82 L646.00,2203.67 L646.00,2205.51 L646.00,2207.35 L646.00,2209.20 L646.00,2211.04 L646.00,2212.88 L646.00,2214.72 L646.00,2216.57 L646.00,2218.41 L646.00,2220.25 L646.00,2222.10 L646.00,2223.94 L646.00,2225.78 L646.00,2227.63 L646.00,2229.47 L646.00,2231.31 L646.00,2233.15 L646.00,2235.00 L646.00,2236.84 L646.00,2238.68 L646.00,2240.53 L646.00,2242.37 L646.00,2244.21 L646.00,2246.05 L646.00,2247.90 L646.00,2249.74 L646.00,2251.58 L646.00,2253.43 L646.00,2255.27 L646.00,2257.11 L646.00,2258.95 L646.00,2260.80 L646.00,2262.64 L646.00,2264.48 L646.00,2266.33 L646.00,2268.17 L646.00,2270.01 L646.00,2271.85 L646.00,2273.70 L646.00,2275.54 L646.00,2277.38 L646.00,2279.23 L646.00,2281.07 L646.00,2282.91 L646.00,2284.76 L646.00,2286.60 L646.00,2288.44 L646.00,2290.28 L646.00,2292.13 L646.00,2293.97 L646.00,2295.81 L646.00,2297.66 L646.00,2299.50 L646.00,2301.34 L646.00,2303.18 L646.00,2305.03 L646.00,2306.87 L646.00,2308.71 L646.00,2310.56 L646.00,2312.40 L646.00,2314.24 L646.00,2316.08 L646.00,2317.93 L646.00,2319.77 L646.00,2321.61 L646.00,2323.46 L646.01,2325.30 L646.03,2327.14 L646.10,2328.98 L646.34,2330.83 L646.95,2332.67 L648.24,2334.51 L650.44,2336.36 L653.41,2338.20 L656.40,2340.04 L658.27,2341.89 L658.19,2343.73 L656.20,2345.57 L653.23,2347.41 L650.53,2349.26 L649.19,2351.10 L650.23,2352.94 L654.96,2354.79 L664.92,2356.63 L680.49,2358.47 L699.09,2360.31 L714.79,2362.16 L721.00,2364.00 L571.00,2364.00 L577.21,2362.16 L592.91,2360.31 L611.51,2358.47 L627.08,2356.63 L637.04,2354.79 L641.77,2352.94 L642.81,2351.10 L641.47,2349.26 L638.77,2347.41 L635.80,2345.57 L633.81,2343.73 L633.73,2341.89 L635.60,2340.04 L638.59,2338.20 L641.56,2336.36 L643.76,2334.51 L645.05,2332.67 L645.66,2330.83 L645.90,2328.98 L645.97,2327.14 L645.99,2325.30 L646.00,2323.46 L646.00,2321.61 L646.00,2319.77 L646.00,2317.93 L646.00,2316.08 L646.00,2314.24 L646.00,2312.40 L646.00,2310.56 L646.00,2308.71 L646.00,2306.87 L646.00,2305.03 L646.00,2303.18 L646.00,2301.34 L646.00,2299.50 L646.00,2297.66 L646.00,2295.81 L646.00,2293.97 L646.00,2292.13 L646.00,2290.28 L646.00,2288.44 L646.00,2286.60 L646.00,2284.76 L646.00,2282.91 L646.00,2281.07 L646.00,2279.23 L646.00,2277.38 L646.00,2275.54 L646.00,2273.70 L646.00,2271.85 L646.00,2270.01 L646.00,2268.17 L646.00,2266.33 L646.00,2264.48 L646.00,2262.64 L646.00,2260.80 L646.00,2258.95 L646.00,2257.11 L646.00,2255.27 L646.00,2253.43 L646.00,2251.58 L646.00,2249.74 L646.00,2247.90 L646.00,2246.05 L646.00,2244.21 L646.00,2242.37 L646.00,2240.53 L646.00,2238.68 L646.00,2236.84 L646.00,2235.00 L646.00,2233.15 L646.00,2231.31 L646.00,2229.47 L646.00,2227.63 L646.00,2225.78 L646.00,2223.94 L646.00,2222.10 L646.00,2220.25 L646.00,2218.41 L646.00,2216.57 L646.00,2214.72 L646.00,2212.88 L646.00,2211.04 L646.00,2209.20 L646.00,2207.35 L646.00,2205.51 L646.00,2203.67 L646.00,2201.82 L646.00,2199.98 L646.00,2198.14 L646.00,2196.30 L646.00,2194.45 L646.00,2192.61 L646.00,2190.77 L646.00,2188.92 L646.00,2187.08 L646.00,2185.24 L646.00,2183.40 L646.00,2181.55 L646.00,2179.71 L646.00,2177.87 L646.00,2176.02 L646.00,2174.18 L646.00,2172.34 L646.00,2170.49 L646.00,2168.65 L646.00,2166.81 L646.00,2164.97 L646.00,2163.12 L646.00,2161.28 L646.00,2159.44 L646.00,2157.59 L646.00,2155.75 L646.00,2153.91 L646.00,2152.07 L646.00,2150.22 L646.00,2148.38 L646.00,2146.54 L646.00,2144.69 L646.00,2142.85 L646.00,2141.01 L646.00,2139.17 L646.00,2137.32 L646.00,2135.48 L646.00,2133.64 L646.00,2131.79 L646.00,2129.95 L646.00,2128.11 L646.00,2126.27 L646.00,2124.42 L646.00,2122.58 L646.00,2120.74 L646.00,2118.89 L646.00,2117.05 L646.00,2115.21 L646.00,2113.36 L646.00,2111.52 L646.00,2109.68 L646.00,2107.84 L646.00,2105.99 L646.00,2104.15 L646.00,2102.31 L646.00,2100.46 L646.00,2098.62 L646.00,2096.78 L646.00,2094.94 L646.00,2093.09 L646.00,2091.25 L646.00,2089.41 L646.00,2087.56 L646.00,2085.72 L646.00,2083.88 L646.00,2082.04 L646.00,2080.19 L646.00,2078.35 L646.00,2076.51 L646.00,2074.66 L646.00,2072.82 L646.00,2070.98 L646.00,2069.14 L646.00,2067.29 L646.00,2065.45 L646.00,2063.61 L646.00,2061.76 L646.00,2059.92 L646.00,2058.08 L646.00,2056.23 L646.00,2054.39 L646.00,2052.55 L646.00,2050.71 L646.00,2048.86 L646.00,2047.02 L646.00,2045.18 L646.00,2043.33 L646.00,2041.49 L646.00,2039.65 L646.00,2037.81 L646.00,2035.96 L646.00,2034.12 L646.00,2032.28 L646.00,2030.43 L646.00,2028.59 L646.00,2026.75 L646.00,2024.91 L646.00,2023.06 L646.00,2021.22 L646.00,2019.38 L646.00,2017.53 L646.00,2015.69 L646.00,2013.85 L646.00,2012.01 L646.00,2010.16 L646.00,2008.32 L646.00,2006.48 L646.00,2004.63 L646.00,2002.79 L646.00,2000.95 L646.00,1999.10 L646.00,1997.26 L646.00,1995.42 L646.00,1993.58 L646.00,1991.73 L646.00,1989.89 L646.00,1988.05 L646.00,1986.20 L646.00,1984.36 L646.00,1982.52 L646.00,1980.68 L646.00,1978.83 L645.99,1976.99 L645.95,1975.15 L645.82,1973.30 L645.44,1971.46 L644.56,1969.62 L642.86,1967.78 L640.26,1965.93 L637.15,1964.09 L634.53,1962.25 L633.50,1960.40Z" fill="none" stroke="#a39e76" stroke-width="2.00" stroke-linejoin="round"/>
<line x1="646.79" y1="2348.05" x2="646.21" y2="2348.05" stroke="#9c966f" stroke-width="2.2" stroke-dasharray="2.2 6.1"/>
<path d="M847.08,1995.60 L846.71,1997.28 L845.64,1998.96 L844.01,2000.64 L842.04,2002.32 L839.94,2004.01 L837.90,2005.69 L836.08,2007.37 L834.57,2009.05 L833.40,2010.74 L832.53,2012.42 L831.94,2014.10 L831.55,2015.78 L831.30,2017.46 L831.16,2019.15 L831.08,2020.83 L831.04,2022.51 L831.02,2024.19 L831.01,2025.88 L831.00,2027.56 L831.00,2029.24 L831.00,2030.92 L831.00,2032.60 L831.00,2034.29 L831.00,2035.97 L831.00,2037.65 L831.00,2039.33 L831.00,2041.02 L831.00,2042.70 L831.00,2044.38 L831.00,2046.06 L831.00,2047.74 L831.00,2049.43 L831.00,2051.11 L831.00,2052.79 L831.00,2054.47 L831.00,2056.16 L831.00,2057.84 L831.00,2059.52 L831.00,2061.20 L831.00,2062.88 L831.00,2064.57 L831.00,2066.25 L831.00,2067.93 L831.00,2069.61 L831.00,2071.30 L831.00,2072.98 L831.00,2074.66 L831.00,2076.34 L831.00,2078.02 L831.00,2079.71 L831.00,2081.39 L831.00,2083.07 L831.00,2084.75 L831.00,2086.44 L831.00,2088.12 L831.00,2089.80 L831.00,2091.48 L831.00,2093.16 L831.00,2094.85 L831.00,2096.53 L831.00,2098.21 L831.00,2099.89 L831.00,2101.57 L831.00,2103.26 L831.00,2104.94 L831.00,2106.62 L831.00,2108.30 L831.00,2109.99 L831.00,2111.67 L831.00,2113.35 L831.00,2115.03 L831.00,2116.71 L831.00,2118.40 L831.00,2120.08 L831.00,2121.76 L831.00,2123.44 L831.00,2125.13 L831.00,2126.81 L831.00,2128.49 L831.00,2130.17 L831.00,2131.85 L831.00,2133.54 L831.00,2135.22 L831.00,2136.90 L831.00,2138.58 L831.00,2140.27 L831.00,2141.95 L831.00,2143.63 L831.00,2145.31 L831.00,2146.99 L831.00,2148.68 L831.00,2150.36 L831.00,2152.04 L831.00,2153.72 L831.00,2155.41 L831.00,2157.09 L831.00,2158.77 L831.00,2160.45 L831.00,2162.13 L831.00,2163.82 L831.00,2165.50 L831.00,2167.18 L831.00,2168.86 L831.00,2170.55 L831.00,2172.23 L831.00,2173.91 L831.00,2175.59 L831.00,2177.27 L831.00,2178.96 L831.00,2180.64 L831.00,2182.32 L831.00,2184.00 L831.00,2185.69 L831.00,2187.37 L831.00,2189.05 L831.00,2190.73 L831.00,2192.41 L831.00,2194.10 L831.00,2195.78 L831.00,2197.46 L831.00,2199.14 L831.00,2200.83 L831.00,2202.51 L831.00,2204.19 L831.00,2205.87 L831.00,2207.55 L831.00,2209.24 L831.00,2210.92 L831.00,2212.60 L831.00,2214.28 L831.00,2215.97 L831.00,2217.65 L831.00,2219.33 L831.00,2221.01 L831.00,2222.69 L831.00,2224.38 L831.00,2226.06 L831.00,2227.74 L831.00,2229.42 L831.00,2231.11 L831.00,2232.79 L831.00,2234.47 L831.00,2236.15 L831.00,2237.83 L831.00,2239.52 L831.00,2241.20 L831.00,2242.88 L831.00,2244.56 L831.00,2246.25 L831.00,2247.93 L831.00,2249.61 L831.00,2251.29 L831.00,2252.97 L831.00,2254.66 L831.00,2256.34 L831.00,2258.02 L831.00,2259.70 L831.00,2261.39 L831.00,2263.07 L831.00,2264.75 L831.00,2266.43 L831.00,2268.11 L831.00,2269.80 L831.00,2271.48 L831.00,2273.16 L831.00,2274.84 L831.00,2276.52 L831.00,2278.21 L831.00,2279.89 L831.00,2281.57 L831.00,2283.25 L831.00,2284.94 L831.00,2286.62 L831.00,2288.30 L831.00,2289.98 L831.00,2291.66 L831.00,2293.35 L831.00,2295.03 L831.00,2296.71 L831.00,2298.39 L831.00,2300.08 L831.00,2301.76 L831.00,2303.44 L831.01,2305.12 L831.03,2306.80 L831.06,2308.49 L831.11,2310.17 L831.22,2311.85 L831.40,2313.53 L831.70,2315.22 L832.18,2316.90 L832.89,2318.58 L833.90,2320.26 L835.23,2321.94 L836.89,2323.63 L838.82,2325.31 L840.92,2326.99 L843.01,2328.67 L844.88,2330.36 L846.34,2332.04 L847.23,2333.72 L847.49,2335.40 L847.18,2337.08 L846.50,2338.77 L845.73,2340.45 L845.26,2342.13 L845.49,2343.81 L846.78,2345.50 L849.44,2347.18 L853.63,2348.86 L859.37,2350.54 L866.49,2352.22 L874.62,2353.91 L883.16,2355.59 L891.36,2357.27 L898.40,2358.95 L903.45,2360.64 L905.86,2362.32 L905.26,2364.00 L756.74,2364.00 L756.14,2362.32 L758.55,2360.64 L763.60,2358.95 L770.64,2357.27 L778.84,2355.59 L787.38,2353.91 L795.51,2352.22 L802.63,2350.54 L808.37,2348.86 L812.56,2347.18 L815.22,2345.50 L816.51,2343.81 L816.74,2342.13 L816.27,2340.45 L815.50,2338.77 L814.82,2337.08 L814.51,2335.40 L814.77,2333.72 L815.66,2332.04 L817.12,2330.36 L818.99,2328.67 L821.08,2326.99 L823.18,2325.31 L825.11,2323.63 L826.77,2321.94 L828.10,2320.26 L829.11,2318.58 L829.82,2316.90 L830.30,2315.22 L830.60,2313.53 L830.78,2311.85 L830.89,2310.17 L830.94,2308.49 L830.97,2306.80 L830.99,2305.12 L831.00,2303.44 L831.00,2301.76 L831.00,2300.08 L831.00,2298.39 L831.00,2296.71 L831.00,2295.03 L831.00,2293.35 L831.00,2291.66 L831.00,2289.98 L831.00,2288.30 L831.00,2286.62 L831.00,2284.94 L831.00,2283.25 L831.00,2281.57 L831.00,2279.89 L831.00,2278.21 L831.00,2276.52 L831.00,2274.84 L831.00,2273.16 L831.00,2271.48 L831.00,2269.80 L831.00,2268.11 L831.00,2266.43 L831.00,2264.75 L831.00,2263.07 L831.00,2261.39 L831.00,2259.70 L831.00,2258.02 L831.00,2256.34 L831.00,2254.66 L831.00,2252.97 L831.00,2251.29 L831.00,2249.61 L831.00,2247.93 L831.00,2246.25 L831.00,2244.56 L831.00,2242.88 L831.00,2241.20 L831.00,2239.52 L831.00,2237.83 L831.00,2236.15 L831.00,2234.47 L831.00,2232.79 L831.00,2231.11 L831.00,2229.42 L831.00,2227.74 L831.00,2226.06 L831.00,2224.38 L831.00,2222.69 L831.00,2221.01 L831.00,2219.33 L831.00,2217.65 L831.00,2215.97 L831.00,2214.28 L831.00,2212.60 L831.00,2210.92 L831.00,2209.24 L831.00,2207.55 L831.00,2205.87 L831.00,2204.19 L831.00,2202.51 L831.00,2200.83 L831.00,2199.14 L831.00,2197.46 L831.00,2195.78 L831.00,2194.10 L831.00,2192.41 L831.00,2190.73 L831.00,2189.05 L831.00,2187.37 L831.00,2185.69 L831.00,2184.00 L831.00,2182.32 L831.00,2180.64 L831.00,2178.96 L831.00,2177.27 L831.00,2175.59 L831.00,2173.91 L831.00,2172.23 L831.00,2170.55 L831.00,2168.86 L831.00,2167.18 L831.00,2165.50 L831.00,2163.82 L831.00,2162.13 L831.00,2160.45 L831.00,2158.77 L831.00,2157.09 L831.00,2155.41 L831.00,2153.72 L831.00,2152.04 L831.00,2150.36 L831.00,2148.68 L831.00,2146.99 L831.00,2145.31 L831.00,2143.63 L831.00,2141.95 L831.00,2140.27 L831.00,2138.58 L831.00,2136.90 L831.00,2135.22 L831.00,2133.54 L831.00,2131.85 L831.00,2130.17 L831.00,2128.49 L831.00,2126.81 L831.00,2125.13 L831.00,2123.44 L831.00,2121.76 L831.00,2120.08 L831.00,2118.40 L831.00,2116.71 L831.00,2115.03 L831.00,2113.35 L831.00,2111.67 L831.00,2109.99 L831.00,2108.30 L831.00,2106.62 L831.00,2104.94 L831.00,2103.26 L831.00,2101.57 L831.00,2099.89 L831.00,2098.21 L831.00,2096.53 L831.00,2094.85 L831.00,2093.16 L831.00,2091.48 L831.00,2089.80 L831.00,2088.12 L831.00,2086.44 L831.00,2084.75 L831.00,2083.07 L831.00,2081.39 L831.00,2079.71 L831.00,2078.02 L831.00,2076.34 L831.00,2074.66 L831.00,2072.98 L831.00,2071.30 L831.00,2069.61 L831.00,2067.93 L831.00,2066.25 L831.00,2064.57 L831.00,2062.88 L831.00,2061.20 L831.00,2059.52 L831.00,2057.84 L831.00,2056.16 L831.00,2054.47 L831.00,2052.79 L831.00,2051.11 L831.00,2049.43 L831.00,2047.74 L831.00,2046.06 L831.00,2044.38 L831.00,2042.70 L831.00,2041.02 L831.00,2039.33 L831.00,2037.65 L831.00,2035.97 L831.00,2034.29 L831.00,2032.60 L831.00,2030.92 L831.00,2029.24 L831.00,2027.56 L830.99,2025.88 L830.98,2024.19 L830.96,2022.51 L830.92,2020.83 L830.84,2019.15 L830.70,2017.46 L830.45,2015.78 L830.06,2014.10 L829.47,2012.42 L828.60,2010.74 L827.43,2009.05 L825.92,2007.37 L824.10,2005.69 L822.06,2004.01 L819.96,2002.32 L817.99,2000.64 L816.36,1998.96 L815.29,1997.28 L814.92,1995.60Z" fill="none" stroke="#e88c35" stroke-width="2.00" stroke-linejoin="round"/>
<line x1="821.55" y1="2334.63" x2="841.45" y2="2334.63" stroke="#c9a07c" stroke-width="2.2" stroke-dasharray="2.2 6.1"/>
<line x1="376.50" y1="119.50" x2="376.50" y2="678.20" stroke="#000" stroke-width="5.40"/>
<line x1="373.80" y1="675.50" x2="933.00" y2="675.50" stroke="#000" stroke-width="5.40"/>
<line x1="360.00" y1="122.20" x2="376.50" y2="122.20" stroke="#000" stroke-width="5.40"/>
<text font-family="Liberation Sans, sans-serif" font-weight="bold" font-size="47.30" text-anchor="end" transform="translate(352.90,139.00) scale(0.966,1)">40</text>
<line x1="360.00" y1="260.53" x2="376.50" y2="260.53" stroke="#000" stroke-width="5.40"/>
<text font-family="Liberation Sans, sans-serif" font-weight="bold" font-size="47.30" text-anchor="end" transform="translate(352.90,277.33) scale(0.966,1)">30</text>
<line x1="360.00" y1="398.85" x2="376.50" y2="398.85" stroke="#000" stroke-width="5.40"/>
<text font-family="Liberation Sans, sans-serif" font-weight="bold" font-size="47.30" text-anchor="end" transform="translate(352.90,415.65) scale(0.966,1)">20</text>
<line x1="360.00" y1="537.17" x2="376.50" y2="537.17" stroke="#000" stroke-width="5.40"/>
<text font-family="Liberation Sans, sans-serif" font-weight="bold" font-size="47.30" text-anchor="end" transform="translate(352.90,553.97) scale(0.966,1)">0</text>
<path d="M320.4,521 L320.4,554 L314.3,554 L314.3,528.8 C311.8,531 309,532.8 305.6,534.2 L305.6,529 C309.5,527.2 312.6,524.5 314.9,521 Z" fill="#000"/>
<line x1="360.00" y1="675.50" x2="376.50" y2="675.50" stroke="#000" stroke-width="5.40"/>
<text font-family="Liberation Sans, sans-serif" font-weight="bold" font-size="47.30" text-anchor="end" transform="translate(352.90,692.30) scale(0.966,1)">0</text>
<line x1="469.00" y1="675.50" x2="469.00" y2="692.50" stroke="#000" stroke-width="5.40"/>
<line x1="653.00" y1="675.50" x2="653.00" y2="692.50" stroke="#000" stroke-width="5.40"/>
<line x1="838.00" y1="675.50" x2="838.00" y2="692.50" stroke="#000" stroke-width="5.40"/>
<line x1="370.00" y1="957.00" x2="370.00" y2="1517.20" stroke="#000" stroke-width="5.40"/>
<line x1="367.30" y1="1514.50" x2="927.00" y2="1514.50" stroke="#000" stroke-width="5.40"/>
<line x1="353.50" y1="959.70" x2="370.00" y2="959.70" stroke="#000" stroke-width="5.40"/>
<text font-family="Liberation Sans, sans-serif" font-weight="bold" font-size="46.50" text-anchor="end" transform="translate(346.50,975.60) scale(0.990,1)">800</text>
<line x1="353.50" y1="1098.40" x2="370.00" y2="1098.40" stroke="#000" stroke-width="5.40"/>
<text font-family="Liberation Sans, sans-serif" font-weight="bold" font-size="46.50" text-anchor="end" transform="translate(346.50,1114.30) scale(0.990,1)">600</text>
<line x1="353.50" y1="1237.10" x2="370.00" y2="1237.10" stroke="#000" stroke-width="5.40"/>
<text font-family="Liberation Sans, sans-serif" font-weight="bold" font-size="46.50" text-anchor="end" transform="translate(346.50,1253.00) scale(0.990,1)">400</text>
<line x1="353.50" y1="1375.80" x2="370.00" y2="1375.80" stroke="#000" stroke-width="5.40"/>
<text font-family="Liberation Sans, sans-serif" font-weight="bold" font-size="46.50" text-anchor="end" transform="translate(346.50,1391.70) scale(0.990,1)">200</text>
<line x1="353.50" y1="1514.50" x2="370.00" y2="1514.50" stroke="#000" stroke-width="5.40"/>
<text font-family="Liberation Sans, sans-serif" font-weight="bold" font-size="46.50" text-anchor="end" transform="translate(346.50,1530.40) scale(0.990,1)">0</text>
<line x1="462.60" y1="1514.50" x2="462.60" y2="1531.50" stroke="#000" stroke-width="5.40"/>
<line x1="647.00" y1="1514.50" x2="647.00" y2="1531.50" stroke="#000" stroke-width="5.40"/>
<line x1="832.00" y1="1514.50" x2="832.00" y2="1531.50" stroke="#000" stroke-width="5.40"/>
<line x1="369.00" y1="1807.10" x2="369.00" y2="2366.70" stroke="#000" stroke-width="5.40"/>
<line x1="366.30" y1="2364.00" x2="925.40" y2="2364.00" stroke="#000" stroke-width="5.40"/>
<line x1="352.50" y1="1809.80" x2="369.00" y2="1809.80" stroke="#000" stroke-width="5.40"/>
<text font-family="Liberation Sans, sans-serif" font-weight="bold" font-size="46.50" text-anchor="end" transform="translate(345.60,1825.70) scale(0.990,1)">800</text>
<line x1="352.50" y1="1948.35" x2="369.00" y2="1948.35" stroke="#000" stroke-width="5.40"/>
<text font-family="Liberation Sans, sans-serif" font-weight="bold" font-size="46.50" text-anchor="end" transform="translate(345.60,1964.25) scale(0.990,1)">600</text>
<line x1="352.50" y1="2086.90" x2="369.00" y2="2086.90" stroke="#000" stroke-width="5.40"/>
<text font-family="Liberation Sans, sans-serif" font-weight="bold" font-size="46.50" text-anchor="end" transform="translate(345.60,2102.80) scale(0.990,1)">400</text>
<line x1="352.50" y1="2225.45" x2="369.00" y2="2225.45" stroke="#000" stroke-width="5.40"/>
<text font-family="Liberation Sans, sans-serif" font-weight="bold" font-size="46.50" text-anchor="end" transform="translate(345.60,2241.35) scale(0.990,1)">200</text>
<line x1="352.50" y1="2364.00" x2="369.00" y2="2364.00" stroke="#000" stroke-width="5.40"/>
<text font-family="Liberation Sans, sans-serif" font-weight="bold" font-size="46.50" text-anchor="end" transform="translate(345.60,2379.90) scale(0.990,1)">0</text>
<line x1="461.00" y1="2364.00" x2="461.00" y2="2381.00" stroke="#000" stroke-width="5.40"/>
<line x1="645.70" y1="2364.00" x2="645.70" y2="2381.00" stroke="#000" stroke-width="5.40"/>
<line x1="831.00" y1="2364.00" x2="831.00" y2="2381.00" stroke="#000" stroke-width="5.40"/>
<rect x="456.95" y="165.88" width="23.30" height="23.30" fill="#129ab7" stroke="#0e7f98" stroke-width="1"/>
<rect x="456.95" y="207.38" width="23.30" height="23.30" fill="#129ab7" stroke="#0e7f98" stroke-width="1"/>
<rect x="412.55" y="387.20" width="23.30" height="23.30" fill="#129ab7" stroke="#0e7f98" stroke-width="1"/>
<rect x="501.35" y="373.37" width="23.30" height="23.30" fill="#129ab7" stroke="#0e7f98" stroke-width="1"/>
<rect x="456.95" y="442.53" width="23.30" height="23.30" fill="#129ab7" stroke="#0e7f98" stroke-width="1"/>
<rect x="456.95" y="497.86" width="23.30" height="23.30" fill="#129ab7" stroke="#0e7f98" stroke-width="1"/>
<rect x="412.55" y="525.52" width="23.30" height="23.30" fill="#129ab7" stroke="#0e7f98" stroke-width="1"/>
<rect x="456.95" y="539.36" width="23.30" height="23.30" fill="#129ab7" stroke="#0e7f98" stroke-width="1"/>
<rect x="501.35" y="539.36" width="23.30" height="23.30" fill="#129ab7" stroke="#0e7f98" stroke-width="1"/>
<rect x="456.95" y="567.02" width="23.30" height="23.30" fill="#129ab7" stroke="#0e7f98" stroke-width="1"/>
<rect x="412.55" y="594.69" width="23.30" height="23.30" fill="#129ab7" stroke="#0e7f98" stroke-width="1"/>
<rect x="501.35" y="594.69" width="23.30" height="23.30" fill="#129ab7" stroke="#0e7f98" stroke-width="1"/>
<rect x="456.95" y="608.52" width="23.30" height="23.30" fill="#129ab7" stroke="#0e7f98" stroke-width="1"/>
<rect x="501.35" y="622.35" width="23.30" height="23.30" fill="#129ab7" stroke="#0e7f98" stroke-width="1"/>
<rect x="412.55" y="636.19" width="23.30" height="23.30" fill="#129ab7" stroke="#0e7f98" stroke-width="1"/>
<path d="M653.00,248.43 L665.10,272.63 L640.90,272.63Z" fill="#bfb67c" stroke="#aca47a" stroke-width="0.8" stroke-linejoin="round"/>
<path d="M653.00,317.59 L665.10,341.79 L640.90,341.79Z" fill="#bfb67c" stroke="#aca47a" stroke-width="0.8" stroke-linejoin="round"/>
<path d="M653.00,483.58 L665.10,507.78 L640.90,507.78Z" fill="#bfb67c" stroke="#aca47a" stroke-width="0.8" stroke-linejoin="round"/>
<path d="M653.00,538.91 L665.10,563.11 L640.90,563.11Z" fill="#bfb67c" stroke="#aca47a" stroke-width="0.8" stroke-linejoin="round"/>
<path d="M653.00,566.57 L665.10,590.77 L640.90,590.77Z" fill="#bfb67c" stroke="#aca47a" stroke-width="0.8" stroke-linejoin="round"/>
<path d="M653.00,594.24 L665.10,618.44 L640.90,618.44Z" fill="#bfb67c" stroke="#aca47a" stroke-width="0.8" stroke-linejoin="round"/>
<path d="M697.80,608.07 L709.90,632.27 L685.70,632.27Z" fill="#bfb67c" stroke="#aca47a" stroke-width="0.8" stroke-linejoin="round"/>
<path d="M609.00,621.90 L621.10,646.10 L596.90,646.10Z" fill="#bfb67c" stroke="#aca47a" stroke-width="0.8" stroke-linejoin="round"/>
<circle cx="838.00" cy="315.86" r="11.55" fill="#f99c3c" stroke="#ec8f35" stroke-width="0.9"/>
<circle cx="838.00" cy="426.51" r="11.55" fill="#f99c3c" stroke="#ec8f35" stroke-width="0.9"/>
<circle cx="838.00" cy="481.85" r="11.55" fill="#f99c3c" stroke="#ec8f35" stroke-width="0.9"/>
<circle cx="838.00" cy="551.01" r="11.55" fill="#f99c3c" stroke="#ec8f35" stroke-width="0.9"/>
<circle cx="882.70" cy="606.34" r="11.55" fill="#f99c3c" stroke="#ec8f35" stroke-width="0.9"/>
<circle cx="838.00" cy="620.17" r="11.55" fill="#f99c3c" stroke="#ec8f35" stroke-width="0.9"/>
<circle cx="838.00" cy="647.84" r="11.55" fill="#f99c3c" stroke="#ec8f35" stroke-width="0.9"/>
<rect x="384.90" y="1092.50" width="12.40" height="11.80" fill="#129ab7" stroke="#0e7f98" stroke-width="1"/>
<rect x="399.28" y="1092.50" width="12.40" height="11.80" fill="#129ab7" stroke="#0e7f98" stroke-width="1"/>
<rect x="413.66" y="1092.50" width="12.40" height="11.80" fill="#129ab7" stroke="#0e7f98" stroke-width="1"/>
<rect x="428.04" y="1092.50" width="12.40" height="11.80" fill="#129ab7" stroke="#0e7f98" stroke-width="1"/>
<rect x="442.42" y="1092.50" width="12.40" height="11.80" fill="#129ab7" stroke="#0e7f98" stroke-width="1"/>
<rect x="456.80" y="1092.50" width="12.40" height="11.80" fill="#129ab7" stroke="#0e7f98" stroke-width="1"/>
<rect x="471.18" y="1092.50" width="12.40" height="11.80" fill="#129ab7" stroke="#0e7f98" stroke-width="1"/>
<rect x="485.56" y="1092.50" width="12.40" height="11.80" fill="#129ab7" stroke="#0e7f98" stroke-width="1"/>
<rect x="499.94" y="1092.50" width="12.40" height="11.80" fill="#129ab7" stroke="#0e7f98" stroke-width="1"/>
<rect x="514.32" y="1092.50" width="12.40" height="11.80" fill="#129ab7" stroke="#0e7f98" stroke-width="1"/>
<rect x="528.70" y="1092.50" width="12.40" height="11.80" fill="#129ab7" stroke="#0e7f98" stroke-width="1"/>
<rect x="456.70" y="1158.48" width="11.60" height="11.60" fill="#129ab7" stroke="#0e7f98" stroke-width="1"/>
<rect x="456.70" y="1224.37" width="11.60" height="11.60" fill="#129ab7" stroke="#0e7f98" stroke-width="1"/>
<rect x="456.40" y="1473.33" width="11.60" height="11.60" fill="#129ab7" stroke="#0e7f98" stroke-width="1"/>
<rect x="442.00" y="1492.75" width="11.60" height="11.60" fill="#129ab7" stroke="#0e7f98" stroke-width="1"/>
<rect x="470.90" y="1492.75" width="11.60" height="11.60" fill="#129ab7" stroke="#0e7f98" stroke-width="1"/>
<path d="M582.00,1086.30 L594.10,1110.50 L569.90,1110.50Z" fill="#bfb67c" stroke="#aca47a" stroke-width="0.8" stroke-linejoin="round"/>
<path d="M608.40,1086.30 L620.50,1110.50 L596.30,1110.50Z" fill="#bfb67c" stroke="#aca47a" stroke-width="0.8" stroke-linejoin="round"/>
<path d="M634.80,1086.30 L646.90,1110.50 L622.70,1110.50Z" fill="#bfb67c" stroke="#aca47a" stroke-width="0.8" stroke-linejoin="round"/>
<path d="M661.20,1086.30 L673.30,1110.50 L649.10,1110.50Z" fill="#bfb67c" stroke="#aca47a" stroke-width="0.8" stroke-linejoin="round"/>
<path d="M687.60,1086.30 L699.70,1110.50 L675.50,1110.50Z" fill="#bfb67c" stroke="#aca47a" stroke-width="0.8" stroke-linejoin="round"/>
<path d="M714.00,1086.30 L726.10,1110.50 L701.90,1110.50Z" fill="#bfb67c" stroke="#aca47a" stroke-width="0.8" stroke-linejoin="round"/>
<path d="M634.30,1491.50 L645.65,1515.30 L622.95,1515.30Z" fill="#bfb67c" stroke="#aca47a" stroke-width="0.8" stroke-linejoin="round"/>
<path d="M660.30,1479.02 L671.65,1502.82 L648.95,1502.82Z" fill="#bfb67c" stroke="#aca47a" stroke-width="0.8" stroke-linejoin="round"/>
<circle cx="767.00" cy="1098.40" r="11.35" fill="#f99c3c" stroke="#ec8f35" stroke-width="0.9"/>
<circle cx="811.00" cy="1098.40" r="11.35" fill="#f99c3c" stroke="#ec8f35" stroke-width="0.9"/>
<circle cx="854.50" cy="1098.40" r="11.35" fill="#f99c3c" stroke="#ec8f35" stroke-width="0.9"/>
<circle cx="898.00" cy="1098.40" r="11.35" fill="#f99c3c" stroke="#ec8f35" stroke-width="0.9"/>
<circle cx="810.80" cy="1476.36" r="11.35" fill="#f99c3c" stroke="#ec8f35" stroke-width="0.9"/>
<circle cx="810.80" cy="1500.63" r="11.35" fill="#f99c3c" stroke="#ec8f35" stroke-width="0.9"/>
<circle cx="854.50" cy="1497.16" r="11.35" fill="#f99c3c" stroke="#ec8f35" stroke-width="0.9"/>
<rect x="383.20" y="2357.70" width="12.60" height="12.60" fill="#129ab7"/>
<rect x="395.65" y="2350.93" width="11.60" height="11.60" fill="#129ab7" stroke="#0e7f98" stroke-width="1"/>
<rect x="407.10" y="2357.70" width="12.60" height="12.60" fill="#129ab7"/>
<rect x="419.55" y="2353.77" width="11.60" height="11.60" fill="#129ab7" stroke="#0e7f98" stroke-width="1"/>
<rect x="431.00" y="2357.70" width="12.60" height="12.60" fill="#129ab7"/>
<rect x="442.95" y="2357.70" width="12.60" height="12.60" fill="#129ab7"/>
<rect x="454.90" y="2357.70" width="12.60" height="12.60" fill="#129ab7"/>
<rect x="466.85" y="2357.70" width="12.60" height="12.60" fill="#129ab7"/>
<rect x="478.80" y="2357.70" width="12.60" height="12.60" fill="#129ab7"/>
<rect x="490.75" y="2357.70" width="12.60" height="12.60" fill="#129ab7"/>
<rect x="502.70" y="2357.70" width="12.60" height="12.60" fill="#129ab7"/>
<rect x="514.65" y="2357.70" width="12.60" height="12.60" fill="#129ab7"/>
<rect x="526.60" y="2357.70" width="12.60" height="12.60" fill="#129ab7"/>
<rect x="455.20" y="1954.23" width="11.80" height="11.80" fill="#129ab7" stroke="#0e7f98" stroke-width="1"/>
<rect x="455.10" y="1995.79" width="11.80" height="11.80" fill="#129ab7" stroke="#0e7f98" stroke-width="1"/>
<rect x="455.10" y="2008.95" width="11.80" height="11.80" fill="#129ab7" stroke="#0e7f98" stroke-width="1"/>
<rect x="467.20" y="1998.56" width="11.80" height="11.80" fill="#129ab7" stroke="#0e7f98" stroke-width="1"/>
<rect x="455.60" y="2292.29" width="11.80" height="11.80" fill="#129ab7" stroke="#0e7f98" stroke-width="1"/>
<rect x="478.90" y="2343.55" width="11.80" height="11.80" fill="#129ab7" stroke="#0e7f98" stroke-width="1"/>
<path d="M580.00,2352.00 L592.00,2376.00 L568.00,2376.00Z" fill="#bfb67c" stroke="#aca47a" stroke-width="0.8" stroke-linejoin="round"/>
<path d="M602.00,2330.73 L614.00,2354.73 L590.00,2354.73Z" fill="#bfb67c" stroke="#aca47a" stroke-width="0.8" stroke-linejoin="round"/>
<path d="M624.00,2352.00 L636.00,2376.00 L612.00,2376.00Z" fill="#bfb67c" stroke="#aca47a" stroke-width="0.8" stroke-linejoin="round"/>
<path d="M645.60,2352.00 L657.60,2376.00 L633.60,2376.00Z" fill="#bfb67c" stroke="#aca47a" stroke-width="0.8" stroke-linejoin="round"/>
<path d="M668.00,2352.00 L680.00,2376.00 L656.00,2376.00Z" fill="#bfb67c" stroke="#aca47a" stroke-width="0.8" stroke-linejoin="round"/>
<path d="M690.00,2352.00 L702.00,2376.00 L678.00,2376.00Z" fill="#bfb67c" stroke="#aca47a" stroke-width="0.8" stroke-linejoin="round"/>
<path d="M712.50,2352.00 L724.50,2376.00 L700.50,2376.00Z" fill="#bfb67c" stroke="#aca47a" stroke-width="0.8" stroke-linejoin="round"/>
<path d="M646.60,1948.40 L658.60,1972.40 L634.60,1972.40Z" fill="#bfb67c" stroke="#aca47a" stroke-width="0.8" stroke-linejoin="round"/>
<circle cx="765.20" cy="2364.00" r="11.15" fill="#f99c3c" stroke="#ec8f35" stroke-width="0.9"/>
<circle cx="798.00" cy="2356.38" r="11.15" fill="#f99c3c" stroke="#ec8f35" stroke-width="0.9"/>
<circle cx="830.80" cy="2364.00" r="11.15" fill="#f99c3c" stroke="#ec8f35" stroke-width="0.9"/>
<circle cx="863.70" cy="2364.00" r="11.15" fill="#f99c3c" stroke="#ec8f35" stroke-width="0.9"/>
<circle cx="897.00" cy="2364.00" r="11.15" fill="#f99c3c" stroke="#ec8f35" stroke-width="0.9"/>
<circle cx="863.70" cy="2334.63" r="11.15" fill="#f99c3c" stroke="#ec8f35" stroke-width="0.9"/>
<circle cx="831.00" cy="1995.60" r="11.15" fill="#f99c3c" stroke="#ec8f35" stroke-width="0.9"/></svg>
</body></html>
